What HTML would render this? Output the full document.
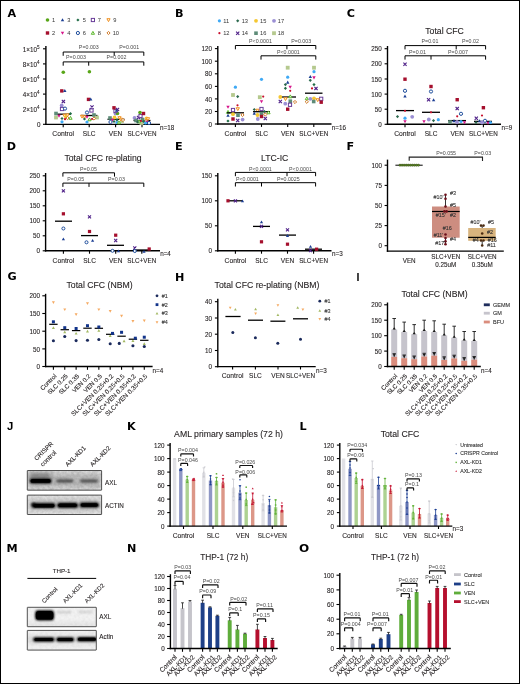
<!DOCTYPE html>
<html lang="en"><head><meta charset="utf-8"><title>Figure</title>
<style>
html,body{margin:0;padding:0;background:#fff;}
body{width:520px;height:684px;overflow:hidden;}
svg{display:block;font-family:"Liberation Sans",sans-serif;}
</style></head>
<body>
<svg width="520" height="684" viewBox="0 0 520 684">
<rect x="0" y="0" width="520" height="684" fill="#fff"/>
<defs><filter id="bl1" filterUnits="userSpaceOnUse" x="0" y="400" width="140" height="284"><feGaussianBlur stdDeviation="0.6"/></filter><filter id="bl2" filterUnits="userSpaceOnUse" x="0" y="400" width="140" height="284"><feGaussianBlur stdDeviation="1.0"/></filter><filter id="bl3" filterUnits="userSpaceOnUse" x="0" y="400" width="140" height="284"><feGaussianBlur stdDeviation="2.0"/></filter><filter id="bl4" filterUnits="userSpaceOnUse" x="0" y="400" width="140" height="284"><feGaussianBlur stdDeviation="3.5"/></filter><filter id="nz" filterUnits="userSpaceOnUse" x="0" y="400" width="140" height="284"><feTurbulence type="fractalNoise" baseFrequency="0.35" numOctaves="2" seed="7" result="t"/><feColorMatrix type="matrix" values="0 0 0 0 0  0 0 0 0 0  0 0 0 0 0  1.6 0 0 0 -0.45"/></filter></defs>
<g id="panelA">
<text transform="translate(7.50 17.20) scale(1.12 1)" font-size="10" font-weight="bold" fill="#000" font-family="DejaVu Sans,Liberation Sans,sans-serif">A</text>
<circle cx="47.50" cy="20.00" r="1.80" fill="#58a618" stroke="none" stroke-width="1" />
<text x="51.90" y="22.00" font-size="5.7" text-anchor="start" fill="#333" >1</text>
<path d="M62.50,18.30 L64.20,21.36 L60.80,21.36 Z" fill="#1c3f94" stroke="none" stroke-width="1" />
<text x="67.30" y="22.00" font-size="5.7" text-anchor="start" fill="#333" >3</text>
<path d="M77.90,18.40 L79.50,20.00 L77.90,21.60 L76.30,20.00 Z" fill="#1f6b45" stroke="none" stroke-width="1" />
<text x="82.70" y="22.00" font-size="5.7" text-anchor="start" fill="#333" >5</text>
<rect x="91.30" y="18.40" width="3.20" height="3.20" fill="#fff" stroke="#6a3d9a" stroke-width="1.0" />
<text x="97.70" y="22.00" font-size="5.7" text-anchor="start" fill="#333" >7</text>
<path d="M108.50,21.60 L110.10,18.72 L106.90,18.72 Z" fill="#fff" stroke="#f0901e" stroke-width="1.0" />
<text x="113.20" y="22.00" font-size="5.7" text-anchor="start" fill="#333" >9</text>
<rect x="45.80" y="31.30" width="3.40" height="3.40" fill="#a50f2d" stroke="none" stroke-width="1" />
<text x="51.90" y="35.00" font-size="5.7" text-anchor="start" fill="#333" >2</text>
<path d="M62.50,34.70 L64.20,31.64 L60.80,31.64 Z" fill="#d6168b" stroke="none" stroke-width="1" />
<text x="67.30" y="35.00" font-size="5.7" text-anchor="start" fill="#333" >4</text>
<circle cx="77.90" cy="33.00" r="1.60" fill="#fff" stroke="#1f4e9c" stroke-width="1.0" />
<text x="82.70" y="35.00" font-size="5.7" text-anchor="start" fill="#333" >6</text>
<path d="M92.90,31.40 L94.50,34.28 L91.30,34.28 Z" fill="#fff" stroke="#5db82e" stroke-width="1.0" />
<text x="97.70" y="35.00" font-size="5.7" text-anchor="start" fill="#333" >8</text>
<path d="M108.50,31.40 L110.10,33.00 L108.50,34.60 L106.90,33.00 Z" fill="#fff" stroke="#d07a28" stroke-width="1.0" />
<text x="112.70" y="35.00" font-size="5.7" text-anchor="start" fill="#333" >10</text>
<line x1="45.90" y1="46.00" x2="45.90" y2="125.10" stroke="#000" stroke-width="1.4" stroke-linecap="butt" />
<line x1="45.20" y1="124.40" x2="160.00" y2="124.40" stroke="#000" stroke-width="1.4" stroke-linecap="butt" />
<line x1="43.00" y1="48.80" x2="45.90" y2="48.80" stroke="#000" stroke-width="1.1" stroke-linecap="butt" />
<line x1="43.00" y1="63.90" x2="45.90" y2="63.90" stroke="#000" stroke-width="1.1" stroke-linecap="butt" />
<line x1="43.00" y1="79.00" x2="45.90" y2="79.00" stroke="#000" stroke-width="1.1" stroke-linecap="butt" />
<line x1="43.00" y1="94.10" x2="45.90" y2="94.10" stroke="#000" stroke-width="1.1" stroke-linecap="butt" />
<line x1="43.00" y1="109.20" x2="45.90" y2="109.20" stroke="#000" stroke-width="1.1" stroke-linecap="butt" />
<line x1="43.00" y1="124.30" x2="45.90" y2="124.30" stroke="#000" stroke-width="1.1" stroke-linecap="butt" />
<line x1="63.20" y1="124.40" x2="63.20" y2="127.30" stroke="#000" stroke-width="1.1" stroke-linecap="butt" />
<text x="63.20" y="136.00" font-size="6.74" text-anchor="middle" fill="#231f20" stroke="#231f20" stroke-width="0.1" >Control</text>
<line x1="89.20" y1="124.40" x2="89.20" y2="127.30" stroke="#000" stroke-width="1.1" stroke-linecap="butt" />
<text x="89.20" y="136.00" font-size="6.55" text-anchor="middle" fill="#231f20" stroke="#231f20" stroke-width="0.1" >SLC</text>
<line x1="115.60" y1="124.40" x2="115.60" y2="127.30" stroke="#000" stroke-width="1.1" stroke-linecap="butt" />
<text x="115.60" y="136.00" font-size="6.55" text-anchor="middle" fill="#231f20" stroke="#231f20" stroke-width="0.1" >VEN</text>
<line x1="142.00" y1="124.40" x2="142.00" y2="127.30" stroke="#000" stroke-width="1.1" stroke-linecap="butt" />
<text x="142.00" y="136.00" font-size="6.3" text-anchor="middle" fill="#231f20" stroke="#231f20" stroke-width="0.1" >SLC+VEN</text>
<text x="39.60" y="51.50" font-size="6.3" text-anchor="end" fill="#231f20" stroke="#231f20" stroke-width="0.1" >1×10<tspan font-size="4.6" dy="-2.8">5</tspan></text>
<text x="39.60" y="66.60" font-size="6.3" text-anchor="end" fill="#231f20" stroke="#231f20" stroke-width="0.1" >8×10<tspan font-size="4.6" dy="-2.8">4</tspan></text>
<text x="39.60" y="81.70" font-size="6.3" text-anchor="end" fill="#231f20" stroke="#231f20" stroke-width="0.1" >6×10<tspan font-size="4.6" dy="-2.8">4</tspan></text>
<text x="39.60" y="96.80" font-size="6.3" text-anchor="end" fill="#231f20" stroke="#231f20" stroke-width="0.1" >4×10<tspan font-size="4.6" dy="-2.8">4</tspan></text>
<text x="39.60" y="111.90" font-size="6.3" text-anchor="end" fill="#231f20" stroke="#231f20" stroke-width="0.1" >2×10<tspan font-size="4.6" dy="-2.8">4</tspan></text>
<text x="40.60" y="127.00" font-size="6.3" text-anchor="end" fill="#231f20" stroke="#231f20" stroke-width="0.1" >0</text>
<text x="160.00" y="129.70" font-size="6.3" text-anchor="start" fill="#231f20" stroke="#231f20" stroke-width="0.1" >n=18</text>
<path d="M63.20,55.80 L63.20,52.00 L143.80,52.00 L143.80,55.80" fill="none" stroke="#000" stroke-width="1.0" />
<line x1="114.20" y1="52.00" x2="114.20" y2="55.80" stroke="#000" stroke-width="1.0" stroke-linecap="butt" />
<path d="M63.20,65.70 L63.20,61.90 L143.80,61.90 L143.80,65.70" fill="none" stroke="#000" stroke-width="1.0" />
<line x1="88.70" y1="61.90" x2="88.70" y2="65.70" stroke="#000" stroke-width="1.0" stroke-linecap="butt" />
<text x="88.80" y="49.10" font-size="5.3" text-anchor="middle" fill="#4a4a4a" >P=0.003</text>
<text x="129.20" y="49.10" font-size="5.3" text-anchor="middle" fill="#4a4a4a" >P=0.001</text>
<text x="76.00" y="58.90" font-size="5.3" text-anchor="middle" fill="#4a4a4a" >P=0.003</text>
<text x="116.50" y="58.90" font-size="5.3" text-anchor="middle" fill="#4a4a4a" >P=0.002</text>
<line x1="56.00" y1="114.20" x2="70.50" y2="114.20" stroke="#000" stroke-width="1.3" stroke-linecap="butt" />
<rect x="54.10" y="115.60" width="3.80" height="3.80" fill="#b5c98e" stroke="none" stroke-width="1" />
<rect x="54.20" y="111.70" width="3.60" height="3.60" fill="#5e8c78" stroke="none" stroke-width="1" />
<path d="M59.00,117.70 L60.70,114.64 L57.30,114.64 Z" fill="#d6168b" stroke="none" stroke-width="1" />
<path d="M64.50,117.10 L66.10,114.22 L62.90,114.22 Z" fill="#fff" stroke="#f0901e" stroke-width="1.0" />
<path d="M67.50,116.80 L69.10,113.92 L65.90,113.92 Z" fill="#fff" stroke="#f0901e" stroke-width="1.0" />
<path d="M70.50,112.10 L72.10,113.70 L70.50,115.30 L68.90,113.70 Z" fill="#1f6b45" stroke="none" stroke-width="1" />
<circle cx="66.00" cy="117.00" r="1.90" fill="#f5c731" stroke="none" stroke-width="1" />
<path d="M67.50,116.40 L69.10,118.00 L67.50,119.60 L65.90,118.00 Z" fill="#fff" stroke="#d07a28" stroke-width="1.0" />
<path d="M70.50,116.40 L72.10,119.28 L68.90,119.28 Z" fill="#fff" stroke="#5db82e" stroke-width="1.0" />
<path d="M62.00,116.90 L63.60,118.50 L62.00,120.10 L60.40,118.50 Z" fill="#2d6a4f" stroke="none" stroke-width="1" />
<circle cx="65.00" cy="119.20" r="1.10" fill="#c8102e" stroke="none" stroke-width="1" />
<circle cx="62.00" cy="121.80" r="1.60" fill="#3fa9f5" stroke="none" stroke-width="1" />
<circle cx="61.70" cy="105.50" r="1.90" fill="#9b8fd4" stroke="none" stroke-width="1" />
<rect x="60.40" y="107.40" width="3.20" height="3.20" fill="#fff" stroke="#6a3d9a" stroke-width="1.0" />
<circle cx="65.00" cy="108.60" r="1.60" fill="#fff" stroke="#1f4e9c" stroke-width="1.0" />
<path d="M61.80,99.80 L65.00,103.00 M61.80,103.00 L65.00,99.80" fill="none" stroke="#4f2188" stroke-width="1.1" />
<rect x="60.10" y="89.20" width="3.40" height="3.40" fill="#a50f2d" stroke="none" stroke-width="1" />
<path d="M64.80,89.00 L66.50,92.06 L63.10,92.06 Z" fill="#1c3f94" stroke="none" stroke-width="1" />
<circle cx="63.30" cy="72.30" r="1.80" fill="#58a618" stroke="none" stroke-width="1" />
<line x1="81.00" y1="115.50" x2="97.50" y2="115.50" stroke="#000" stroke-width="1.3" stroke-linecap="butt" />
<path d="M82.00,118.10 L83.60,115.22 L80.40,115.22 Z" fill="#fff" stroke="#f0901e" stroke-width="1.0" />
<path d="M84.50,118.60 L86.10,115.72 L82.90,115.72 Z" fill="#fff" stroke="#f0901e" stroke-width="1.0" />
<path d="M87.00,118.70 L88.70,115.64 L85.30,115.64 Z" fill="#d6168b" stroke="none" stroke-width="1" />
<rect x="92.20" y="113.20" width="3.60" height="3.60" fill="#5e8c78" stroke="none" stroke-width="1" />
<rect x="95.10" y="115.60" width="3.80" height="3.80" fill="#b5c98e" stroke="none" stroke-width="1" />
<path d="M94.00,116.90 L95.60,118.50 L94.00,120.10 L92.40,118.50 Z" fill="#fff" stroke="#d07a28" stroke-width="1.0" />
<path d="M89.50,117.90 L91.10,120.78 L87.90,120.78 Z" fill="#fff" stroke="#5db82e" stroke-width="1.0" />
<path d="M84.50,117.40 L86.10,119.00 L84.50,120.60 L82.90,119.00 Z" fill="#2d6a4f" stroke="none" stroke-width="1" />
<circle cx="92.00" cy="119.00" r="1.10" fill="#c8102e" stroke="none" stroke-width="1" />
<circle cx="87.00" cy="122.00" r="1.60" fill="#3fa9f5" stroke="none" stroke-width="1" />
<circle cx="87.00" cy="112.50" r="1.60" fill="#fff" stroke="#1f4e9c" stroke-width="1.0" />
<circle cx="91.00" cy="109.50" r="1.90" fill="#9b8fd4" stroke="none" stroke-width="1" />
<rect x="89.90" y="108.90" width="3.20" height="3.20" fill="#fff" stroke="#6a3d9a" stroke-width="1.0" />
<path d="M90.40,105.40 L93.60,108.60 M90.40,108.60 L93.60,105.40" fill="none" stroke="#4f2188" stroke-width="1.1" />
<rect x="86.80" y="97.70" width="3.40" height="3.40" fill="#a50f2d" stroke="none" stroke-width="1" />
<path d="M90.70,97.50 L92.40,100.56 L89.00,100.56 Z" fill="#1c3f94" stroke="none" stroke-width="1" />
<circle cx="89.40" cy="71.70" r="1.80" fill="#58a618" stroke="none" stroke-width="1" />
<line x1="107.50" y1="119.30" x2="124.50" y2="119.30" stroke="#000" stroke-width="1.3" stroke-linecap="butt" />
<rect x="108.20" y="116.20" width="3.60" height="3.60" fill="#5e8c78" stroke="none" stroke-width="1" />
<rect x="120.10" y="119.10" width="3.80" height="3.80" fill="#b5c98e" stroke="none" stroke-width="1" />
<circle cx="114.50" cy="117.50" r="1.90" fill="#f5c731" stroke="none" stroke-width="1" />
<path d="M112.50,121.70 L114.20,118.64 L110.80,118.64 Z" fill="#d6168b" stroke="none" stroke-width="1" />
<path d="M119.50,119.60 L121.10,116.72 L117.90,116.72 Z" fill="#fff" stroke="#f0901e" stroke-width="1.0" />
<path d="M121.00,121.10 L122.60,118.22 L119.40,118.22 Z" fill="#fff" stroke="#f0901e" stroke-width="1.0" />
<path d="M123.00,118.40 L124.60,120.00 L123.00,121.60 L121.40,120.00 Z" fill="#fff" stroke="#d07a28" stroke-width="1.0" />
<circle cx="110.50" cy="122.00" r="1.60" fill="#fff" stroke="#1f4e9c" stroke-width="1.0" />
<path d="M114.00,119.90 L115.60,121.50 L114.00,123.10 L112.40,121.50 Z" fill="#2d6a4f" stroke="none" stroke-width="1" />
<circle cx="117.00" cy="122.50" r="1.60" fill="#3fa9f5" stroke="none" stroke-width="1" />
<path d="M119.00,120.90 L120.60,123.78 L117.40,123.78 Z" fill="#fff" stroke="#5db82e" stroke-width="1.0" />
<path d="M117.00,118.40 L118.60,120.00 L117.00,121.60 L115.40,120.00 Z" fill="#1f6b45" stroke="none" stroke-width="1" />
<circle cx="115.50" cy="113.50" r="1.90" fill="#9b8fd4" stroke="none" stroke-width="1" />
<circle cx="117.50" cy="113.50" r="1.80" fill="#58a618" stroke="none" stroke-width="1" />
<rect x="113.90" y="109.40" width="3.20" height="3.20" fill="#fff" stroke="#6a3d9a" stroke-width="1.0" />
<path d="M115.90,107.90 L119.10,111.10 M115.90,111.10 L119.10,107.90" fill="none" stroke="#4f2188" stroke-width="1.1" />
<rect x="112.30" y="106.10" width="3.40" height="3.40" fill="#a50f2d" stroke="none" stroke-width="1" />
<path d="M116.50,108.80 L118.20,111.86 L114.80,111.86 Z" fill="#1c3f94" stroke="none" stroke-width="1" />
<line x1="133.50" y1="120.50" x2="150.50" y2="120.50" stroke="#000" stroke-width="1.3" stroke-linecap="butt" />
<circle cx="134.50" cy="118.00" r="1.90" fill="#9b8fd4" stroke="none" stroke-width="1" />
<rect x="134.20" y="118.70" width="3.60" height="3.60" fill="#5e8c78" stroke="none" stroke-width="1" />
<rect x="139.60" y="121.10" width="3.80" height="3.80" fill="#b5c98e" stroke="none" stroke-width="1" />
<circle cx="146.50" cy="118.50" r="1.90" fill="#f5c731" stroke="none" stroke-width="1" />
<path d="M148.00,120.60 L149.60,117.72 L146.40,117.72 Z" fill="#fff" stroke="#f0901e" stroke-width="1.0" />
<path d="M146.00,119.40 L147.60,121.00 L146.00,122.60 L144.40,121.00 Z" fill="#fff" stroke="#d07a28" stroke-width="1.0" />
<path d="M147.00,123.70 L148.70,120.64 L145.30,120.64 Z" fill="#d6168b" stroke="none" stroke-width="1" />
<circle cx="145.50" cy="123.00" r="1.60" fill="#3fa9f5" stroke="none" stroke-width="1" />
<circle cx="149.00" cy="123.00" r="1.60" fill="#fff" stroke="#1f4e9c" stroke-width="1.0" />
<path d="M139.00,119.90 L140.60,122.78 L137.40,122.78 Z" fill="#fff" stroke="#5db82e" stroke-width="1.0" />
<path d="M137.50,120.40 L139.10,122.00 L137.50,123.60 L135.90,122.00 Z" fill="#2d6a4f" stroke="none" stroke-width="1" />
<rect x="140.70" y="117.70" width="3.60" height="3.60" fill="#5e8c78" stroke="none" stroke-width="1" />
<path d="M136.90,115.90 L140.10,119.10 M136.90,119.10 L140.10,115.90" fill="none" stroke="#4f2188" stroke-width="1.1" />
<rect x="138.90" y="114.40" width="3.20" height="3.20" fill="#fff" stroke="#6a3d9a" stroke-width="1.0" />
<circle cx="140.00" cy="112.50" r="1.80" fill="#58a618" stroke="none" stroke-width="1" />
<rect x="141.80" y="111.80" width="3.40" height="3.40" fill="#a50f2d" stroke="none" stroke-width="1" />
<circle cx="141.00" cy="121.00" r="1.10" fill="#c8102e" stroke="none" stroke-width="1" />
<path d="M143.50,119.90 L145.10,121.50 L143.50,123.10 L141.90,121.50 Z" fill="#1f6b45" stroke="none" stroke-width="1" />
</g>
<g id="panelB">
<text transform="translate(175.00 17.20) scale(1.12 1)" font-size="10" font-weight="bold" fill="#000" font-family="DejaVu Sans,Liberation Sans,sans-serif">B</text>
<circle cx="219.40" cy="20.80" r="1.60" fill="#3fa9f5" stroke="none" stroke-width="1" />
<text x="223.20" y="22.80" font-size="5.7" text-anchor="start" fill="#333" >11</text>
<path d="M237.70,19.20 L239.30,20.80 L237.70,22.40 L236.10,20.80 Z" fill="#2d6a4f" stroke="none" stroke-width="1" />
<text x="241.70" y="22.80" font-size="5.7" text-anchor="start" fill="#333" >13</text>
<circle cx="256.00" cy="20.80" r="1.90" fill="#f5c731" stroke="none" stroke-width="1" />
<text x="260.00" y="22.80" font-size="5.7" text-anchor="start" fill="#333" >15</text>
<circle cx="274.00" cy="20.80" r="1.90" fill="#9b8fd4" stroke="none" stroke-width="1" />
<text x="277.80" y="22.80" font-size="5.7" text-anchor="start" fill="#333" >17</text>
<circle cx="219.40" cy="33.20" r="1.10" fill="#c8102e" stroke="none" stroke-width="1" />
<text x="223.20" y="35.20" font-size="5.7" text-anchor="start" fill="#333" >12</text>
<path d="M236.10,31.60 L239.30,34.80 M236.10,34.80 L239.30,31.60" fill="none" stroke="#4f2188" stroke-width="1.1" />
<text x="241.70" y="35.20" font-size="5.7" text-anchor="start" fill="#333" >14</text>
<rect x="254.20" y="31.40" width="3.60" height="3.60" fill="#5e8c78" stroke="none" stroke-width="1" />
<text x="260.00" y="35.20" font-size="5.7" text-anchor="start" fill="#333" >16</text>
<rect x="272.10" y="31.30" width="3.80" height="3.80" fill="#b5c98e" stroke="none" stroke-width="1" />
<text x="277.80" y="35.20" font-size="5.7" text-anchor="start" fill="#333" >18</text>
<line x1="217.80" y1="46.00" x2="217.80" y2="124.70" stroke="#000" stroke-width="1.4" stroke-linecap="butt" />
<line x1="217.10" y1="124.00" x2="331.50" y2="124.00" stroke="#000" stroke-width="1.4" stroke-linecap="butt" />
<line x1="214.90" y1="48.60" x2="217.80" y2="48.60" stroke="#000" stroke-width="1.1" stroke-linecap="butt" />
<text x="212.10" y="51.27" font-size="6.3" text-anchor="end" fill="#231f20" stroke="#231f20" stroke-width="0.1" >120</text>
<line x1="214.90" y1="61.20" x2="217.80" y2="61.20" stroke="#000" stroke-width="1.1" stroke-linecap="butt" />
<text x="212.10" y="63.87" font-size="6.3" text-anchor="end" fill="#231f20" stroke="#231f20" stroke-width="0.1" >100</text>
<line x1="214.90" y1="73.80" x2="217.80" y2="73.80" stroke="#000" stroke-width="1.1" stroke-linecap="butt" />
<text x="212.10" y="76.47" font-size="6.3" text-anchor="end" fill="#231f20" stroke="#231f20" stroke-width="0.1" >80</text>
<line x1="214.90" y1="86.40" x2="217.80" y2="86.40" stroke="#000" stroke-width="1.1" stroke-linecap="butt" />
<text x="212.10" y="89.07" font-size="6.3" text-anchor="end" fill="#231f20" stroke="#231f20" stroke-width="0.1" >60</text>
<line x1="214.90" y1="98.90" x2="217.80" y2="98.90" stroke="#000" stroke-width="1.1" stroke-linecap="butt" />
<text x="212.10" y="101.57" font-size="6.3" text-anchor="end" fill="#231f20" stroke="#231f20" stroke-width="0.1" >40</text>
<line x1="214.90" y1="111.50" x2="217.80" y2="111.50" stroke="#000" stroke-width="1.1" stroke-linecap="butt" />
<text x="212.10" y="114.17" font-size="6.3" text-anchor="end" fill="#231f20" stroke="#231f20" stroke-width="0.1" >20</text>
<line x1="214.90" y1="124.00" x2="217.80" y2="124.00" stroke="#000" stroke-width="1.1" stroke-linecap="butt" />
<text x="212.10" y="126.67" font-size="6.3" text-anchor="end" fill="#231f20" stroke="#231f20" stroke-width="0.1" >0</text>
<line x1="235.40" y1="124.00" x2="235.40" y2="126.90" stroke="#000" stroke-width="1.1" stroke-linecap="butt" />
<text x="235.40" y="136.00" font-size="6.74" text-anchor="middle" fill="#231f20" stroke="#231f20" stroke-width="0.1" >Control</text>
<line x1="261.50" y1="124.00" x2="261.50" y2="126.90" stroke="#000" stroke-width="1.1" stroke-linecap="butt" />
<text x="261.50" y="136.00" font-size="6.55" text-anchor="middle" fill="#231f20" stroke="#231f20" stroke-width="0.1" >SLC</text>
<line x1="287.70" y1="124.00" x2="287.70" y2="126.90" stroke="#000" stroke-width="1.1" stroke-linecap="butt" />
<text x="287.70" y="136.00" font-size="6.55" text-anchor="middle" fill="#231f20" stroke="#231f20" stroke-width="0.1" >VEN</text>
<line x1="313.80" y1="124.00" x2="313.80" y2="126.90" stroke="#000" stroke-width="1.1" stroke-linecap="butt" />
<text x="313.80" y="136.00" font-size="6.3" text-anchor="middle" fill="#231f20" stroke="#231f20" stroke-width="0.1" >SLC+VEN</text>
<text x="331.80" y="129.70" font-size="6.3" text-anchor="start" fill="#231f20" stroke="#231f20" stroke-width="0.1" >n=16</text>
<path d="M235.40,49.30 L235.40,45.50 L315.80,45.50 L315.80,49.30" fill="none" stroke="#000" stroke-width="1.0" />
<line x1="286.90" y1="45.50" x2="286.90" y2="49.30" stroke="#000" stroke-width="1.0" stroke-linecap="butt" />
<path d="M261.00,59.60 L261.00,55.80 L315.80,55.80 L315.80,59.60" fill="none" stroke="#000" stroke-width="1.0" />
<text x="260.50" y="43.30" font-size="5.3" text-anchor="middle" fill="#4a4a4a" >P&lt;0.0001</text>
<text x="301.20" y="43.30" font-size="5.3" text-anchor="middle" fill="#4a4a4a" >P=0.003</text>
<text x="288.40" y="53.50" font-size="5.3" text-anchor="middle" fill="#4a4a4a" >P&lt;0.0001</text>
<circle cx="235.40" cy="87.20" r="1.60" fill="#3fa9f5" stroke="none" stroke-width="1" />
<rect x="231.10" y="93.10" width="3.80" height="3.80" fill="#b5c98e" stroke="none" stroke-width="1" />
<path d="M237.70,95.00 L239.30,96.60 L237.70,98.20 L236.10,96.60 Z" fill="#2d6a4f" stroke="none" stroke-width="1" />
<path d="M228.00,108.70 L229.70,105.64 L226.30,105.64 Z" fill="#d6168b" stroke="none" stroke-width="1" />
<circle cx="237.50" cy="105.30" r="1.10" fill="#c8102e" stroke="none" stroke-width="1" />
<rect x="231.40" y="108.40" width="3.20" height="3.20" fill="#fff" stroke="#6a3d9a" stroke-width="1.0" />
<path d="M237.80,110.60 L239.40,107.72 L236.20,107.72 Z" fill="#fff" stroke="#f0901e" stroke-width="1.0" />
<path d="M228.00,110.40 L229.60,113.28 L226.40,113.28 Z" fill="#fff" stroke="#5db82e" stroke-width="1.0" />
<line x1="227.00" y1="112.80" x2="244.00" y2="112.80" stroke="#000" stroke-width="1.3" stroke-linecap="butt" />
<circle cx="233.00" cy="114.20" r="1.90" fill="#f5c731" stroke="none" stroke-width="1" />
<rect x="236.20" y="113.40" width="3.60" height="3.60" fill="#5e8c78" stroke="none" stroke-width="1" />
<path d="M242.50,113.40 L244.10,115.00 L242.50,116.60 L240.90,115.00 Z" fill="#fff" stroke="#d07a28" stroke-width="1.0" />
<path d="M228.00,113.80 L229.70,116.86 L226.30,116.86 Z" fill="#1c3f94" stroke="none" stroke-width="1" />
<rect x="231.30" y="117.30" width="3.40" height="3.40" fill="#a50f2d" stroke="none" stroke-width="1" />
<path d="M236.10,118.90 L239.30,122.10 M236.10,122.10 L239.30,118.90" fill="none" stroke="#4f2188" stroke-width="1.1" />
<circle cx="242.60" cy="119.60" r="1.90" fill="#9b8fd4" stroke="none" stroke-width="1" />
<path d="M228.00,119.40 L229.60,121.00 L228.00,122.60 L226.40,121.00 Z" fill="#1f6b45" stroke="none" stroke-width="1" />
<circle cx="261.50" cy="79.30" r="1.60" fill="#3fa9f5" stroke="none" stroke-width="1" />
<rect x="257.90" y="95.30" width="3.80" height="3.80" fill="#b5c98e" stroke="none" stroke-width="1" />
<circle cx="263.20" cy="96.60" r="1.10" fill="#c8102e" stroke="none" stroke-width="1" />
<path d="M261.50,103.20 L263.20,100.14 L259.80,100.14 Z" fill="#d6168b" stroke="none" stroke-width="1" />
<path d="M254.30,107.90 L255.90,109.50 L254.30,111.10 L252.70,109.50 Z" fill="#2d6a4f" stroke="none" stroke-width="1" />
<path d="M257.50,112.10 L259.10,109.22 L255.90,109.22 Z" fill="#fff" stroke="#f0901e" stroke-width="1.0" />
<line x1="253.00" y1="111.70" x2="270.00" y2="111.70" stroke="#000" stroke-width="1.3" stroke-linecap="butt" />
<path d="M254.30,111.80 L256.00,114.86 L252.60,114.86 Z" fill="#1c3f94" stroke="none" stroke-width="1" />
<circle cx="257.50" cy="115.00" r="1.90" fill="#f5c731" stroke="none" stroke-width="1" />
<rect x="259.70" y="111.70" width="3.60" height="3.60" fill="#5e8c78" stroke="none" stroke-width="1" />
<path d="M264.50,109.90 L266.10,111.50 L264.50,113.10 L262.90,111.50 Z" fill="#1f6b45" stroke="none" stroke-width="1" />
<path d="M268.50,110.90 L270.10,113.78 L266.90,113.78 Z" fill="#fff" stroke="#5db82e" stroke-width="1.0" />
<path d="M265.30,112.90 L266.90,114.50 L265.30,116.10 L263.70,114.50 Z" fill="#fff" stroke="#d07a28" stroke-width="1.0" />
<rect x="259.90" y="107.40" width="3.20" height="3.20" fill="#fff" stroke="#6a3d9a" stroke-width="1.0" />
<rect x="259.80" y="114.80" width="3.40" height="3.40" fill="#a50f2d" stroke="none" stroke-width="1" />
<circle cx="257.80" cy="119.00" r="1.90" fill="#9b8fd4" stroke="none" stroke-width="1" />
<path d="M263.70,116.90 L266.90,120.10 M263.70,120.10 L266.90,116.90" fill="none" stroke="#4f2188" stroke-width="1.1" />
<rect x="285.80" y="65.80" width="3.80" height="3.80" fill="#b5c98e" stroke="none" stroke-width="1" />
<circle cx="287.70" cy="77.20" r="1.60" fill="#3fa9f5" stroke="none" stroke-width="1" />
<path d="M287.70,80.60 L289.40,83.66 L286.00,83.66 Z" fill="#1c3f94" stroke="none" stroke-width="1" />
<path d="M285.40,83.00 L287.00,84.60 L285.40,86.20 L283.80,84.60 Z" fill="#2d6a4f" stroke="none" stroke-width="1" />
<path d="M285.40,86.70 L287.00,88.30 L285.40,89.90 L283.80,88.30 Z" fill="#1f6b45" stroke="none" stroke-width="1" />
<path d="M290.20,88.70 L291.90,85.64 L288.50,85.64 Z" fill="#d6168b" stroke="none" stroke-width="1" />
<circle cx="290.20" cy="90.80" r="1.10" fill="#c8102e" stroke="none" stroke-width="1" />
<line x1="280.00" y1="97.00" x2="296.00" y2="97.00" stroke="#000" stroke-width="1.3" stroke-linecap="butt" />
<circle cx="280.30" cy="97.00" r="1.90" fill="#f5c731" stroke="none" stroke-width="1" />
<path d="M290.30,94.90 L291.90,97.78 L288.70,97.78 Z" fill="#fff" stroke="#5db82e" stroke-width="1.0" />
<path d="M285.50,100.60 L287.10,97.72 L283.90,97.72 Z" fill="#fff" stroke="#f0901e" stroke-width="1.0" />
<path d="M278.70,99.90 L281.90,103.10 M278.70,103.10 L281.90,99.90" fill="none" stroke="#4f2188" stroke-width="1.1" />
<rect x="288.50" y="99.40" width="3.60" height="3.60" fill="#5e8c78" stroke="none" stroke-width="1" />
<path d="M295.00,100.40 L296.60,102.00 L295.00,103.60 L293.40,102.00 Z" fill="#fff" stroke="#d07a28" stroke-width="1.0" />
<circle cx="285.30" cy="103.70" r="1.90" fill="#9b8fd4" stroke="none" stroke-width="1" />
<rect x="288.40" y="103.20" width="3.20" height="3.20" fill="#fff" stroke="#6a3d9a" stroke-width="1.0" />
<rect x="286.00" y="107.50" width="3.40" height="3.40" fill="#a50f2d" stroke="none" stroke-width="1" />
<rect x="312.10" y="65.80" width="3.80" height="3.80" fill="#b5c98e" stroke="none" stroke-width="1" />
<circle cx="314.00" cy="71.70" r="1.60" fill="#3fa9f5" stroke="none" stroke-width="1" />
<path d="M310.30,74.90 L312.00,77.96 L308.60,77.96 Z" fill="#1c3f94" stroke="none" stroke-width="1" />
<path d="M314.00,79.40 L315.70,76.34 L312.30,76.34 Z" fill="#d6168b" stroke="none" stroke-width="1" />
<path d="M310.30,78.70 L311.90,80.30 L310.30,81.90 L308.70,80.30 Z" fill="#2d6a4f" stroke="none" stroke-width="1" />
<path d="M314.00,83.00 L315.60,84.60 L314.00,86.20 L312.40,84.60 Z" fill="#1f6b45" stroke="none" stroke-width="1" />
<circle cx="312.00" cy="88.40" r="1.10" fill="#c8102e" stroke="none" stroke-width="1" />
<path d="M314.40,86.80 L317.60,90.00 M314.40,90.00 L317.60,86.80" fill="none" stroke="#4f2188" stroke-width="1.1" />
<line x1="305.00" y1="93.20" x2="322.50" y2="93.20" stroke="#000" stroke-width="1.3" stroke-linecap="butt" />
<path d="M306.80,96.90 L308.40,99.78 L305.20,99.78 Z" fill="#fff" stroke="#5db82e" stroke-width="1.0" />
<circle cx="310.30" cy="98.80" r="1.90" fill="#9b8fd4" stroke="none" stroke-width="1" />
<circle cx="314.00" cy="98.30" r="1.90" fill="#f5c731" stroke="none" stroke-width="1" />
<rect x="319.60" y="97.20" width="3.20" height="3.20" fill="#fff" stroke="#6a3d9a" stroke-width="1.0" />
<path d="M317.70,101.60 L319.30,98.72 L316.10,98.72 Z" fill="#fff" stroke="#f0901e" stroke-width="1.0" />
<path d="M306.80,100.20 L308.40,101.80 L306.80,103.40 L305.20,101.80 Z" fill="#fff" stroke="#d07a28" stroke-width="1.0" />
<rect x="311.90" y="99.70" width="3.60" height="3.60" fill="#5e8c78" stroke="none" stroke-width="1" />
<rect x="319.50" y="100.50" width="3.40" height="3.40" fill="#a50f2d" stroke="none" stroke-width="1" />
</g>
<g id="panelC">
<text transform="translate(346.80 17.20) scale(1.12 1)" font-size="10" font-weight="bold" fill="#000" font-family="DejaVu Sans,Liberation Sans,sans-serif">C</text>
<text x="444.60" y="34.20" font-size="8.7" text-anchor="middle" fill="#231f20" stroke="#231f20" stroke-width="0.1" >Total CFC</text>
<line x1="387.50" y1="46.00" x2="387.50" y2="125.00" stroke="#000" stroke-width="1.4" stroke-linecap="butt" />
<line x1="386.80" y1="124.30" x2="501.00" y2="124.30" stroke="#000" stroke-width="1.4" stroke-linecap="butt" />
<line x1="384.60" y1="48.70" x2="387.50" y2="48.70" stroke="#000" stroke-width="1.1" stroke-linecap="butt" />
<text x="381.80" y="51.37" font-size="6.3" text-anchor="end" fill="#231f20" stroke="#231f20" stroke-width="0.1" >250</text>
<line x1="384.60" y1="63.80" x2="387.50" y2="63.80" stroke="#000" stroke-width="1.1" stroke-linecap="butt" />
<text x="381.80" y="66.47" font-size="6.3" text-anchor="end" fill="#231f20" stroke="#231f20" stroke-width="0.1" >200</text>
<line x1="384.60" y1="79.00" x2="387.50" y2="79.00" stroke="#000" stroke-width="1.1" stroke-linecap="butt" />
<text x="381.80" y="81.67" font-size="6.3" text-anchor="end" fill="#231f20" stroke="#231f20" stroke-width="0.1" >150</text>
<line x1="384.60" y1="94.10" x2="387.50" y2="94.10" stroke="#000" stroke-width="1.1" stroke-linecap="butt" />
<text x="381.80" y="96.77" font-size="6.3" text-anchor="end" fill="#231f20" stroke="#231f20" stroke-width="0.1" >100</text>
<line x1="384.60" y1="109.20" x2="387.50" y2="109.20" stroke="#000" stroke-width="1.1" stroke-linecap="butt" />
<text x="381.80" y="111.87" font-size="6.3" text-anchor="end" fill="#231f20" stroke="#231f20" stroke-width="0.1" >50</text>
<line x1="384.60" y1="124.30" x2="387.50" y2="124.30" stroke="#000" stroke-width="1.1" stroke-linecap="butt" />
<text x="381.80" y="126.97" font-size="6.3" text-anchor="end" fill="#231f20" stroke="#231f20" stroke-width="0.1" >0</text>
<line x1="405.00" y1="124.30" x2="405.00" y2="127.20" stroke="#000" stroke-width="1.1" stroke-linecap="butt" />
<text x="405.00" y="136.00" font-size="6.74" text-anchor="middle" fill="#231f20" stroke="#231f20" stroke-width="0.1" >Control</text>
<line x1="431.00" y1="124.30" x2="431.00" y2="127.20" stroke="#000" stroke-width="1.1" stroke-linecap="butt" />
<text x="431.00" y="136.00" font-size="6.55" text-anchor="middle" fill="#231f20" stroke="#231f20" stroke-width="0.1" >SLC</text>
<line x1="457.20" y1="124.30" x2="457.20" y2="127.20" stroke="#000" stroke-width="1.1" stroke-linecap="butt" />
<text x="457.20" y="136.00" font-size="6.55" text-anchor="middle" fill="#231f20" stroke="#231f20" stroke-width="0.1" >VEN</text>
<line x1="483.40" y1="124.30" x2="483.40" y2="127.20" stroke="#000" stroke-width="1.1" stroke-linecap="butt" />
<text x="483.40" y="136.00" font-size="6.3" text-anchor="middle" fill="#231f20" stroke="#231f20" stroke-width="0.1" >SLC+VEN</text>
<text x="501.50" y="129.70" font-size="6.3" text-anchor="start" fill="#231f20" stroke="#231f20" stroke-width="0.1" >n=9</text>
<path d="M405.00,49.40 L405.00,45.60 L485.60,45.60 L485.60,49.40" fill="none" stroke="#000" stroke-width="1.0" />
<line x1="456.20" y1="45.60" x2="456.20" y2="49.40" stroke="#000" stroke-width="1.0" stroke-linecap="butt" />
<path d="M405.00,59.60 L405.00,55.80 L485.60,55.80 L485.60,59.60" fill="none" stroke="#000" stroke-width="1.0" />
<line x1="431.00" y1="55.80" x2="431.00" y2="59.60" stroke="#000" stroke-width="1.0" stroke-linecap="butt" />
<text x="430.00" y="43.30" font-size="5.3" text-anchor="middle" fill="#4a4a4a" >P=0.01</text>
<text x="470.40" y="43.30" font-size="5.3" text-anchor="middle" fill="#4a4a4a" >P=0.02</text>
<text x="417.50" y="53.80" font-size="5.3" text-anchor="middle" fill="#4a4a4a" >P=0.01</text>
<text x="458.00" y="53.80" font-size="5.3" text-anchor="middle" fill="#4a4a4a" >P=0.007</text>
<line x1="396.00" y1="110.60" x2="414.00" y2="110.60" stroke="#000" stroke-width="1.3" stroke-linecap="butt" />
<line x1="422.00" y1="112.30" x2="440.00" y2="112.30" stroke="#000" stroke-width="1.3" stroke-linecap="butt" />
<line x1="448.00" y1="120.60" x2="466.00" y2="120.60" stroke="#000" stroke-width="1.3" stroke-linecap="butt" />
<line x1="474.00" y1="121.40" x2="492.00" y2="121.40" stroke="#000" stroke-width="1.3" stroke-linecap="butt" />
<path d="M403.40,62.60 L406.60,65.80 M403.40,65.80 L406.60,62.60" fill="none" stroke="#4f2188" stroke-width="1.1" />
<rect x="403.30" y="77.50" width="3.40" height="3.40" fill="#a50f2d" stroke="none" stroke-width="1" />
<circle cx="405.00" cy="90.80" r="1.60" fill="#fff" stroke="#1f4e9c" stroke-width="1.0" />
<path d="M405.00,94.50 L406.70,97.56 L403.30,97.56 Z" fill="#1c3f94" stroke="none" stroke-width="1" />
<circle cx="405.00" cy="110.80" r="1.10" fill="#c8102e" stroke="none" stroke-width="1" />
<path d="M397.50,115.00 L399.10,116.60 L397.50,118.20 L395.90,116.60 Z" fill="#2d6a4f" stroke="none" stroke-width="1" />
<circle cx="405.00" cy="118.20" r="1.60" fill="#3fa9f5" stroke="none" stroke-width="1" />
<circle cx="412.20" cy="116.80" r="1.90" fill="#9b8fd4" stroke="none" stroke-width="1" />
<path d="M405.00,123.30 L406.70,120.24 L403.30,120.24 Z" fill="#d6168b" stroke="none" stroke-width="1" />
<rect x="429.30" y="84.80" width="3.40" height="3.40" fill="#a50f2d" stroke="none" stroke-width="1" />
<circle cx="431.00" cy="91.50" r="1.60" fill="#fff" stroke="#1f4e9c" stroke-width="1.0" />
<path d="M427.00,98.20 L430.20,101.40 M427.00,101.40 L430.20,98.20" fill="none" stroke="#4f2188" stroke-width="1.1" />
<path d="M433.60,98.30 L435.30,101.36 L431.90,101.36 Z" fill="#1c3f94" stroke="none" stroke-width="1" />
<circle cx="431.00" cy="112.30" r="1.10" fill="#c8102e" stroke="none" stroke-width="1" />
<path d="M424.00,123.20 L425.70,120.14 L422.30,120.14 Z" fill="#d6168b" stroke="none" stroke-width="1" />
<circle cx="428.80" cy="119.50" r="1.90" fill="#9b8fd4" stroke="none" stroke-width="1" />
<path d="M433.50,119.00 L435.10,120.60 L433.50,122.20 L431.90,120.60 Z" fill="#2d6a4f" stroke="none" stroke-width="1" />
<circle cx="438.30" cy="119.70" r="1.60" fill="#3fa9f5" stroke="none" stroke-width="1" />
<rect x="455.50" y="98.00" width="3.40" height="3.40" fill="#a50f2d" stroke="none" stroke-width="1" />
<path d="M455.60,107.00 L458.80,110.20 M455.60,110.20 L458.80,107.00" fill="none" stroke="#4f2188" stroke-width="1.1" />
<circle cx="461.00" cy="113.80" r="1.60" fill="#fff" stroke="#1f4e9c" stroke-width="1.0" />
<circle cx="457.20" cy="116.30" r="1.10" fill="#c8102e" stroke="none" stroke-width="1" />
<rect x="448.20" y="120.20" width="3.60" height="3.60" fill="#5e8c78" stroke="none" stroke-width="1" />
<path d="M454.00,119.10 L455.70,122.16 L452.30,122.16 Z" fill="#1c3f94" stroke="none" stroke-width="1" />
<circle cx="457.00" cy="122.00" r="1.90" fill="#9b8fd4" stroke="none" stroke-width="1" />
<circle cx="461.00" cy="121.50" r="1.60" fill="#3fa9f5" stroke="none" stroke-width="1" />
<path d="M464.50,124.20 L466.20,121.14 L462.80,121.14 Z" fill="#d6168b" stroke="none" stroke-width="1" />
<rect x="481.70" y="106.00" width="3.40" height="3.40" fill="#a50f2d" stroke="none" stroke-width="1" />
<circle cx="482.00" cy="115.50" r="1.10" fill="#c8102e" stroke="none" stroke-width="1" />
<path d="M474.70,116.70 L477.90,119.90 M474.70,119.90 L477.90,116.70" fill="none" stroke="#4f2188" stroke-width="1.1" />
<path d="M476.00,120.90 L477.60,122.50 L476.00,124.10 L474.40,122.50 Z" fill="#2d6a4f" stroke="none" stroke-width="1" />
<path d="M479.50,119.30 L481.20,122.36 L477.80,122.36 Z" fill="#1c3f94" stroke="none" stroke-width="1" />
<circle cx="485.00" cy="120.80" r="1.60" fill="#fff" stroke="#1f4e9c" stroke-width="1.0" />
<circle cx="482.00" cy="122.50" r="1.90" fill="#9b8fd4" stroke="none" stroke-width="1" />
<path d="M488.00,124.70 L489.70,121.64 L486.30,121.64 Z" fill="#d6168b" stroke="none" stroke-width="1" />
<circle cx="490.50" cy="122.50" r="1.60" fill="#3fa9f5" stroke="none" stroke-width="1" />
</g>
<g id="panelD">
<text transform="translate(6.80 149.70) scale(1.12 1)" font-size="10" font-weight="bold" fill="#000" font-family="DejaVu Sans,Liberation Sans,sans-serif">D</text>
<text x="103.00" y="161.00" font-size="8.7" text-anchor="middle" fill="#231f20" stroke="#231f20" stroke-width="0.1" >Total CFC re-plating</text>
<line x1="45.60" y1="173.00" x2="45.60" y2="251.50" stroke="#000" stroke-width="1.4" stroke-linecap="butt" />
<line x1="44.90" y1="250.80" x2="160.00" y2="250.80" stroke="#000" stroke-width="1.4" stroke-linecap="butt" />
<line x1="42.70" y1="175.80" x2="45.60" y2="175.80" stroke="#000" stroke-width="1.1" stroke-linecap="butt" />
<text x="39.90" y="178.47" font-size="6.3" text-anchor="end" fill="#231f20" stroke="#231f20" stroke-width="0.1" >250</text>
<line x1="42.70" y1="190.80" x2="45.60" y2="190.80" stroke="#000" stroke-width="1.1" stroke-linecap="butt" />
<text x="39.90" y="193.47" font-size="6.3" text-anchor="end" fill="#231f20" stroke="#231f20" stroke-width="0.1" >200</text>
<line x1="42.70" y1="205.80" x2="45.60" y2="205.80" stroke="#000" stroke-width="1.1" stroke-linecap="butt" />
<text x="39.90" y="208.47" font-size="6.3" text-anchor="end" fill="#231f20" stroke="#231f20" stroke-width="0.1" >150</text>
<line x1="42.70" y1="220.80" x2="45.60" y2="220.80" stroke="#000" stroke-width="1.1" stroke-linecap="butt" />
<text x="39.90" y="223.47" font-size="6.3" text-anchor="end" fill="#231f20" stroke="#231f20" stroke-width="0.1" >100</text>
<line x1="42.70" y1="235.80" x2="45.60" y2="235.80" stroke="#000" stroke-width="1.1" stroke-linecap="butt" />
<text x="39.90" y="238.47" font-size="6.3" text-anchor="end" fill="#231f20" stroke="#231f20" stroke-width="0.1" >50</text>
<line x1="42.70" y1="250.80" x2="45.60" y2="250.80" stroke="#000" stroke-width="1.1" stroke-linecap="butt" />
<text x="39.90" y="253.47" font-size="6.3" text-anchor="end" fill="#231f20" stroke="#231f20" stroke-width="0.1" >0</text>
<line x1="63.40" y1="250.80" x2="63.40" y2="253.70" stroke="#000" stroke-width="1.1" stroke-linecap="butt" />
<text x="63.40" y="262.70" font-size="6.74" text-anchor="middle" fill="#231f20" stroke="#231f20" stroke-width="0.1" >Control</text>
<line x1="89.50" y1="250.80" x2="89.50" y2="253.70" stroke="#000" stroke-width="1.1" stroke-linecap="butt" />
<text x="89.50" y="262.70" font-size="6.55" text-anchor="middle" fill="#231f20" stroke="#231f20" stroke-width="0.1" >SLC</text>
<line x1="115.70" y1="250.80" x2="115.70" y2="253.70" stroke="#000" stroke-width="1.1" stroke-linecap="butt" />
<text x="115.70" y="262.70" font-size="6.55" text-anchor="middle" fill="#231f20" stroke="#231f20" stroke-width="0.1" >VEN</text>
<line x1="141.80" y1="250.80" x2="141.80" y2="253.70" stroke="#000" stroke-width="1.1" stroke-linecap="butt" />
<text x="141.80" y="262.70" font-size="6.3" text-anchor="middle" fill="#231f20" stroke="#231f20" stroke-width="0.1" >SLC+VEN</text>
<text x="160.20" y="256.00" font-size="6.3" text-anchor="start" fill="#231f20" stroke="#231f20" stroke-width="0.1" >n=4</text>
<path d="M62.90,176.60 L62.90,172.80 L114.50,172.80 L114.50,176.60" fill="none" stroke="#000" stroke-width="1.0" />
<path d="M62.90,186.90 L62.90,183.10 L143.80,183.10 L143.80,186.90" fill="none" stroke="#000" stroke-width="1.0" />
<line x1="89.00" y1="183.10" x2="89.00" y2="186.90" stroke="#000" stroke-width="1.0" stroke-linecap="butt" />
<text x="88.50" y="170.60" font-size="5.3" text-anchor="middle" fill="#4a4a4a" >P=0.05</text>
<text x="75.80" y="180.60" font-size="5.3" text-anchor="middle" fill="#4a4a4a" >P=0.05</text>
<text x="116.50" y="180.60" font-size="5.3" text-anchor="middle" fill="#4a4a4a" >P=0.03</text>
<line x1="55.00" y1="221.20" x2="72.00" y2="221.20" stroke="#000" stroke-width="1.3" stroke-linecap="butt" />
<line x1="81.00" y1="235.60" x2="98.00" y2="235.60" stroke="#000" stroke-width="1.3" stroke-linecap="butt" />
<line x1="107.00" y1="245.30" x2="124.00" y2="245.30" stroke="#000" stroke-width="1.3" stroke-linecap="butt" />
<line x1="133.00" y1="250.00" x2="150.00" y2="250.00" stroke="#000" stroke-width="1.3" stroke-linecap="butt" />
<path d="M61.88,189.28 L64.92,192.32 M61.88,192.32 L64.92,189.28" fill="none" stroke="#4f2188" stroke-width="1.1" />
<rect x="61.78" y="212.19" width="3.23" height="3.23" fill="#a50f2d" stroke="none" stroke-width="1" />
<circle cx="63.40" cy="228.50" r="1.52" fill="#fff" stroke="#1f4e9c" stroke-width="1.0" />
<path d="M63.40,237.38 L65.02,240.29 L61.78,240.29 Z" fill="#1c3f94" stroke="none" stroke-width="1" />
<path d="M87.98,215.28 L91.02,218.32 M87.98,218.32 L91.02,215.28" fill="none" stroke="#4f2188" stroke-width="1.1" />
<rect x="87.89" y="229.88" width="3.23" height="3.23" fill="#a50f2d" stroke="none" stroke-width="1" />
<circle cx="86.50" cy="242.30" r="1.52" fill="#fff" stroke="#1f4e9c" stroke-width="1.0" />
<path d="M92.60,238.88 L94.21,241.79 L90.98,241.79 Z" fill="#1c3f94" stroke="none" stroke-width="1" />
<rect x="114.09" y="233.58" width="3.23" height="3.23" fill="#a50f2d" stroke="none" stroke-width="1" />
<path d="M114.18,238.98 L117.22,242.02 M114.18,242.02 L117.22,238.98" fill="none" stroke="#4f2188" stroke-width="1.1" />
<circle cx="112.50" cy="250.80" r="1.52" fill="#fff" stroke="#1f4e9c" stroke-width="1.0" />
<path d="M118.50,249.38 L120.11,252.29 L116.89,252.29 Z" fill="#1c3f94" stroke="none" stroke-width="1" />
<path d="M133.28,246.48 L136.32,249.52 M133.28,249.52 L136.32,246.48" fill="none" stroke="#4f2188" stroke-width="1.1" />
<rect x="147.58" y="247.38" width="3.23" height="3.23" fill="#a50f2d" stroke="none" stroke-width="1" />
<circle cx="134.80" cy="251.00" r="1.52" fill="#fff" stroke="#1f4e9c" stroke-width="1.0" />
<path d="M144.00,249.88 L145.62,252.79 L142.38,252.79 Z" fill="#1c3f94" stroke="none" stroke-width="1" />
</g>
<g id="panelE">
<text transform="translate(175.00 149.70) scale(1.12 1)" font-size="10" font-weight="bold" fill="#000" font-family="DejaVu Sans,Liberation Sans,sans-serif">E</text>
<text x="274.70" y="161.00" font-size="8.7" text-anchor="middle" fill="#231f20" stroke="#231f20" stroke-width="0.1" >LTC-IC</text>
<line x1="217.80" y1="173.00" x2="217.80" y2="251.50" stroke="#000" stroke-width="1.4" stroke-linecap="butt" />
<line x1="217.10" y1="250.80" x2="331.50" y2="250.80" stroke="#000" stroke-width="1.4" stroke-linecap="butt" />
<line x1="214.90" y1="175.80" x2="217.80" y2="175.80" stroke="#000" stroke-width="1.1" stroke-linecap="butt" />
<text x="212.10" y="178.47" font-size="6.3" text-anchor="end" fill="#231f20" stroke="#231f20" stroke-width="0.1" >150</text>
<line x1="214.90" y1="200.80" x2="217.80" y2="200.80" stroke="#000" stroke-width="1.1" stroke-linecap="butt" />
<text x="212.10" y="203.47" font-size="6.3" text-anchor="end" fill="#231f20" stroke="#231f20" stroke-width="0.1" >100</text>
<line x1="214.90" y1="225.80" x2="217.80" y2="225.80" stroke="#000" stroke-width="1.1" stroke-linecap="butt" />
<text x="212.10" y="228.47" font-size="6.3" text-anchor="end" fill="#231f20" stroke="#231f20" stroke-width="0.1" >50</text>
<line x1="214.90" y1="250.80" x2="217.80" y2="250.80" stroke="#000" stroke-width="1.1" stroke-linecap="butt" />
<text x="212.10" y="253.47" font-size="6.3" text-anchor="end" fill="#231f20" stroke="#231f20" stroke-width="0.1" >0</text>
<line x1="235.40" y1="250.80" x2="235.40" y2="253.70" stroke="#000" stroke-width="1.1" stroke-linecap="butt" />
<text x="235.40" y="262.70" font-size="6.74" text-anchor="middle" fill="#231f20" stroke="#231f20" stroke-width="0.1" >Control</text>
<line x1="261.50" y1="250.80" x2="261.50" y2="253.70" stroke="#000" stroke-width="1.1" stroke-linecap="butt" />
<text x="261.50" y="262.70" font-size="6.55" text-anchor="middle" fill="#231f20" stroke="#231f20" stroke-width="0.1" >SLC</text>
<line x1="287.50" y1="250.80" x2="287.50" y2="253.70" stroke="#000" stroke-width="1.1" stroke-linecap="butt" />
<text x="287.50" y="262.70" font-size="6.55" text-anchor="middle" fill="#231f20" stroke="#231f20" stroke-width="0.1" >VEN</text>
<line x1="313.60" y1="250.80" x2="313.60" y2="253.70" stroke="#000" stroke-width="1.1" stroke-linecap="butt" />
<text x="313.60" y="262.70" font-size="6.3" text-anchor="middle" fill="#231f20" stroke="#231f20" stroke-width="0.1" >SLC+VEN</text>
<text x="332.00" y="256.00" font-size="6.3" text-anchor="start" fill="#231f20" stroke="#231f20" stroke-width="0.1" >n=3</text>
<path d="M235.40,176.20 L235.40,172.40 L315.60,172.40 L315.60,176.20" fill="none" stroke="#000" stroke-width="1.0" />
<line x1="287.00" y1="172.40" x2="287.00" y2="176.20" stroke="#000" stroke-width="1.0" stroke-linecap="butt" />
<path d="M235.40,186.50 L235.40,182.70 L315.60,182.70 L315.60,186.50" fill="none" stroke="#000" stroke-width="1.0" />
<line x1="261.50" y1="182.70" x2="261.50" y2="186.50" stroke="#000" stroke-width="1.0" stroke-linecap="butt" />
<text x="260.40" y="170.60" font-size="5.3" text-anchor="middle" fill="#4a4a4a" >P&lt;0.0001</text>
<text x="300.50" y="170.60" font-size="5.3" text-anchor="middle" fill="#4a4a4a" >P&lt;0.0001</text>
<text x="247.40" y="180.60" font-size="5.3" text-anchor="middle" fill="#4a4a4a" >P&lt;0.0001</text>
<text x="288.30" y="180.60" font-size="5.3" text-anchor="middle" fill="#4a4a4a" >P=0.0025</text>
<line x1="228.00" y1="200.80" x2="243.00" y2="200.80" stroke="#000" stroke-width="1.3" stroke-linecap="butt" />
<line x1="253.00" y1="226.40" x2="270.00" y2="226.40" stroke="#000" stroke-width="1.3" stroke-linecap="butt" />
<line x1="279.00" y1="235.10" x2="296.00" y2="235.10" stroke="#000" stroke-width="1.3" stroke-linecap="butt" />
<line x1="305.00" y1="249.20" x2="322.00" y2="249.20" stroke="#000" stroke-width="1.3" stroke-linecap="butt" />
<rect x="226.38" y="199.19" width="3.23" height="3.23" fill="#a50f2d" stroke="none" stroke-width="1" />
<path d="M233.88,199.28 L236.92,202.32 M233.88,202.32 L236.92,199.28" fill="none" stroke="#4f2188" stroke-width="1.1" />
<path d="M242.50,199.38 L244.12,202.29 L240.88,202.29 Z" fill="#1c3f94" stroke="none" stroke-width="1" />
<path d="M261.50,220.38 L263.12,223.29 L259.88,223.29 Z" fill="#1c3f94" stroke="none" stroke-width="1" />
<path d="M259.98,224.88 L263.02,227.92 M259.98,227.92 L263.02,224.88" fill="none" stroke="#4f2188" stroke-width="1.1" />
<rect x="259.88" y="240.19" width="3.23" height="3.23" fill="#a50f2d" stroke="none" stroke-width="1" />
<path d="M285.98,228.28 L289.02,231.32 M285.98,231.32 L289.02,228.28" fill="none" stroke="#4f2188" stroke-width="1.1" />
<path d="M287.50,233.98 L289.12,236.89 L285.88,236.89 Z" fill="#1c3f94" stroke="none" stroke-width="1" />
<rect x="285.88" y="242.58" width="3.23" height="3.23" fill="#a50f2d" stroke="none" stroke-width="1" />
<path d="M310.50,244.88 L312.12,247.79 L308.88,247.79 Z" fill="#1c3f94" stroke="none" stroke-width="1" />
<rect x="314.99" y="247.58" width="3.23" height="3.23" fill="#a50f2d" stroke="none" stroke-width="1" />
<path d="M308.98,248.98 L312.02,252.02 M308.98,252.02 L312.02,248.98" fill="none" stroke="#4f2188" stroke-width="1.1" />
</g>
<g id="panelF">
<text transform="translate(346.40 150.10) scale(1.12 1)" font-size="10" font-weight="bold" fill="#000" font-family="DejaVu Sans,Liberation Sans,sans-serif">F</text>
<line x1="387.50" y1="159.60" x2="387.50" y2="251.80" stroke="#000" stroke-width="1.4" stroke-linecap="butt" />
<line x1="386.80" y1="251.10" x2="503.80" y2="251.10" stroke="#000" stroke-width="1.4" stroke-linecap="butt" />
<line x1="384.60" y1="165.20" x2="387.50" y2="165.20" stroke="#000" stroke-width="1.1" stroke-linecap="butt" />
<text x="381.90" y="167.90" font-size="6.3" text-anchor="end" fill="#231f20" stroke="#231f20" stroke-width="0.1" >100</text>
<line x1="384.60" y1="185.40" x2="387.50" y2="185.40" stroke="#000" stroke-width="1.1" stroke-linecap="butt" />
<text x="381.90" y="188.10" font-size="6.3" text-anchor="end" fill="#231f20" stroke="#231f20" stroke-width="0.1" >75</text>
<line x1="384.60" y1="205.50" x2="387.50" y2="205.50" stroke="#000" stroke-width="1.1" stroke-linecap="butt" />
<text x="381.90" y="208.20" font-size="6.3" text-anchor="end" fill="#231f20" stroke="#231f20" stroke-width="0.1" >50</text>
<line x1="384.60" y1="225.60" x2="387.50" y2="225.60" stroke="#000" stroke-width="1.1" stroke-linecap="butt" />
<text x="381.90" y="228.30" font-size="6.3" text-anchor="end" fill="#231f20" stroke="#231f20" stroke-width="0.1" >25</text>
<line x1="384.60" y1="245.70" x2="387.50" y2="245.70" stroke="#000" stroke-width="1.1" stroke-linecap="butt" />
<text x="381.90" y="248.40" font-size="6.3" text-anchor="end" fill="#231f20" stroke="#231f20" stroke-width="0.1" >0</text>
<text x="409.20" y="262.60" font-size="6.3" text-anchor="middle" fill="#231f20" stroke="#231f20" stroke-width="0.1" >VEN</text>
<text x="445.80" y="258.50" font-size="6.3" text-anchor="middle" fill="#231f20" stroke="#231f20" stroke-width="0.1" >SLC+VEN</text>
<text x="445.80" y="266.60" font-size="6.3" text-anchor="middle" fill="#231f20" stroke="#231f20" stroke-width="0.1" >0.25uM</text>
<text x="482.20" y="258.50" font-size="6.3" text-anchor="middle" fill="#231f20" stroke="#231f20" stroke-width="0.1" >SLC+VEN</text>
<text x="482.20" y="266.60" font-size="6.3" text-anchor="middle" fill="#231f20" stroke="#231f20" stroke-width="0.1" >0.35uM</text>
<path d="M409.2,160.8 L409.2,157.1 L482.5,157.1 L482.5,161.0" fill="none" stroke="#222" stroke-width="1.1" />
<text x="446.10" y="155.20" font-size="5.3" text-anchor="middle" fill="#4a4a4a" >P=0.055</text>
<text x="482.80" y="155.20" font-size="5.3" text-anchor="middle" fill="#4a4a4a" >P=0.03</text>
<line x1="395.40" y1="165.20" x2="422.70" y2="165.20" stroke="#000" stroke-width="1.0" stroke-linecap="butt" />
<circle cx="400.00" cy="165.20" r="1.15" fill="#5f8a26" stroke="#2a400e" stroke-width="0.4" />
<circle cx="402.05" cy="165.20" r="1.15" fill="#5f8a26" stroke="#2a400e" stroke-width="0.4" />
<circle cx="404.10" cy="165.20" r="1.15" fill="#5f8a26" stroke="#2a400e" stroke-width="0.4" />
<circle cx="406.15" cy="165.20" r="1.15" fill="#5f8a26" stroke="#2a400e" stroke-width="0.4" />
<circle cx="408.20" cy="165.20" r="1.15" fill="#5f8a26" stroke="#2a400e" stroke-width="0.4" />
<circle cx="410.25" cy="165.20" r="1.15" fill="#5f8a26" stroke="#2a400e" stroke-width="0.4" />
<circle cx="412.30" cy="165.20" r="1.15" fill="#5f8a26" stroke="#2a400e" stroke-width="0.4" />
<circle cx="414.35" cy="165.20" r="1.15" fill="#5f8a26" stroke="#2a400e" stroke-width="0.4" />
<circle cx="416.40" cy="165.20" r="1.15" fill="#5f8a26" stroke="#2a400e" stroke-width="0.4" />
<circle cx="418.45" cy="165.20" r="1.15" fill="#5f8a26" stroke="#2a400e" stroke-width="0.4" />
<rect x="432.00" y="206.50" width="27.70" height="31.20" fill="#cd8d80" stroke="none" stroke-width="1" />
<line x1="445.50" y1="194.60" x2="445.50" y2="206.50" stroke="#000" stroke-width="0.8" stroke-linecap="butt" />
<line x1="445.50" y1="237.70" x2="445.50" y2="244.60" stroke="#000" stroke-width="0.8" stroke-linecap="butt" />
<line x1="432.00" y1="211.50" x2="459.70" y2="211.50" stroke="#000" stroke-width="1.2" stroke-linecap="butt" />
<circle cx="445.50" cy="194.80" r="1.30" fill="#6b0f1a" stroke="none" stroke-width="1" />
<circle cx="445.50" cy="198.80" r="1.30" fill="#6b0f1a" stroke="none" stroke-width="1" />
<circle cx="445.50" cy="206.50" r="1.30" fill="#6b0f1a" stroke="none" stroke-width="1" />
<circle cx="444.40" cy="211.40" r="1.30" fill="#6b0f1a" stroke="none" stroke-width="1" />
<circle cx="446.60" cy="211.40" r="1.30" fill="#6b0f1a" stroke="none" stroke-width="1" />
<circle cx="445.50" cy="234.50" r="1.30" fill="#6b0f1a" stroke="none" stroke-width="1" />
<circle cx="445.50" cy="238.00" r="1.30" fill="#6b0f1a" stroke="none" stroke-width="1" />
<circle cx="445.50" cy="241.30" r="1.30" fill="#6b0f1a" stroke="none" stroke-width="1" />
<circle cx="445.50" cy="244.30" r="1.30" fill="#6b0f1a" stroke="none" stroke-width="1" />
<text x="433.50" y="199.40" font-size="5.4" text-anchor="start" fill="#333" stroke="#333" stroke-width="0.1" >#10'</text>
<text x="449.90" y="195.00" font-size="5.4" text-anchor="start" fill="#333" stroke="#333" stroke-width="0.1" >#3</text>
<text x="449.90" y="206.80" font-size="5.4" text-anchor="start" fill="#333" stroke="#333" stroke-width="0.1" >#5</text>
<text x="435.70" y="217.20" font-size="5.4" text-anchor="start" fill="#333" stroke="#333" stroke-width="0.1" >#15'</text>
<text x="449.90" y="217.20" font-size="5.4" text-anchor="start" fill="#333" stroke="#333" stroke-width="0.1" >#2</text>
<text x="442.70" y="230.40" font-size="5.4" text-anchor="start" fill="#333" stroke="#333" stroke-width="0.1" >#16</text>
<text x="433.70" y="237.40" font-size="5.4" text-anchor="start" fill="#333" stroke="#333" stroke-width="0.1" >#11'</text>
<text x="449.90" y="241.40" font-size="5.4" text-anchor="start" fill="#333" stroke="#333" stroke-width="0.1" >#4</text>
<text x="435.20" y="245.40" font-size="5.4" text-anchor="start" fill="#333" stroke="#333" stroke-width="0.1" >#17'</text>
<rect x="468.20" y="228.00" width="27.50" height="12.80" fill="#d8b47e" stroke="none" stroke-width="1" />
<line x1="482.20" y1="225.70" x2="482.20" y2="228.00" stroke="#000" stroke-width="0.8" stroke-linecap="butt" />
<line x1="482.20" y1="240.80" x2="482.20" y2="245.70" stroke="#000" stroke-width="0.8" stroke-linecap="butt" />
<line x1="468.20" y1="237.40" x2="495.70" y2="237.40" stroke="#000" stroke-width="1.2" stroke-linecap="butt" />
<circle cx="481.00" cy="225.60" r="1.30" fill="#4a2a10" stroke="none" stroke-width="1" />
<circle cx="483.50" cy="225.60" r="1.30" fill="#4a2a10" stroke="none" stroke-width="1" />
<circle cx="482.20" cy="233.50" r="1.30" fill="#4a2a10" stroke="none" stroke-width="1" />
<circle cx="481.00" cy="240.50" r="1.30" fill="#4a2a10" stroke="none" stroke-width="1" />
<circle cx="483.50" cy="240.50" r="1.30" fill="#4a2a10" stroke="none" stroke-width="1" />
<circle cx="482.20" cy="245.50" r="1.30" fill="#4a2a10" stroke="none" stroke-width="1" />
<text x="470.50" y="224.00" font-size="5.4" text-anchor="start" fill="#333" stroke="#333" stroke-width="0.1" >#10'</text>
<text x="487.90" y="224.00" font-size="5.4" text-anchor="start" fill="#333" stroke="#333" stroke-width="0.1" >#5</text>
<text x="486.90" y="233.80" font-size="5.4" text-anchor="start" fill="#333" stroke="#333" stroke-width="0.1" >#2</text>
<text x="472.70" y="242.20" font-size="5.4" text-anchor="start" fill="#333" stroke="#333" stroke-width="0.1" >#4</text>
<text x="487.70" y="242.20" font-size="5.4" text-anchor="start" fill="#333" stroke="#333" stroke-width="0.1" >#16</text>
<text x="487.20" y="247.00" font-size="5.4" text-anchor="start" fill="#333" stroke="#333" stroke-width="0.1" >#11</text>
</g>
<g id="panelG">
<text transform="translate(7.50 280.20) scale(1.12 1)" font-size="10" font-weight="bold" fill="#000" font-family="DejaVu Sans,Liberation Sans,sans-serif">G</text>
<text x="99.60" y="287.70" font-size="8.7" text-anchor="middle" fill="#231f20" stroke="#231f20" stroke-width="0.1" >Total CFC (NBM)</text>
<line x1="45.60" y1="293.80" x2="45.60" y2="367.20" stroke="#000" stroke-width="1.4" stroke-linecap="butt" />
<line x1="44.90" y1="366.50" x2="152.60" y2="366.50" stroke="#000" stroke-width="1.4" stroke-linecap="butt" />
<line x1="42.30" y1="295.80" x2="45.60" y2="295.80" stroke="#000" stroke-width="1.1" stroke-linecap="butt" />
<text x="39.90" y="298.47" font-size="6.3" text-anchor="end" fill="#231f20" stroke="#231f20" stroke-width="0.1" >200</text>
<line x1="42.30" y1="313.50" x2="45.60" y2="313.50" stroke="#000" stroke-width="1.1" stroke-linecap="butt" />
<text x="39.90" y="316.17" font-size="6.3" text-anchor="end" fill="#231f20" stroke="#231f20" stroke-width="0.1" >150</text>
<line x1="42.30" y1="331.20" x2="45.60" y2="331.20" stroke="#000" stroke-width="1.1" stroke-linecap="butt" />
<text x="39.90" y="333.87" font-size="6.3" text-anchor="end" fill="#231f20" stroke="#231f20" stroke-width="0.1" >100</text>
<line x1="42.30" y1="348.90" x2="45.60" y2="348.90" stroke="#000" stroke-width="1.1" stroke-linecap="butt" />
<text x="39.90" y="351.57" font-size="6.3" text-anchor="end" fill="#231f20" stroke="#231f20" stroke-width="0.1" >50</text>
<line x1="42.30" y1="366.50" x2="45.60" y2="366.50" stroke="#000" stroke-width="1.1" stroke-linecap="butt" />
<text x="39.90" y="369.17" font-size="6.3" text-anchor="end" fill="#231f20" stroke="#231f20" stroke-width="0.1" >0</text>
<line x1="53.40" y1="366.50" x2="53.40" y2="369.80" stroke="#000" stroke-width="1.1" stroke-linecap="butt" />
<line x1="64.76" y1="366.50" x2="64.76" y2="369.80" stroke="#000" stroke-width="1.1" stroke-linecap="butt" />
<line x1="76.12" y1="366.50" x2="76.12" y2="369.80" stroke="#000" stroke-width="1.1" stroke-linecap="butt" />
<line x1="87.48" y1="366.50" x2="87.48" y2="369.80" stroke="#000" stroke-width="1.1" stroke-linecap="butt" />
<line x1="98.84" y1="366.50" x2="98.84" y2="369.80" stroke="#000" stroke-width="1.1" stroke-linecap="butt" />
<line x1="110.20" y1="366.50" x2="110.20" y2="369.80" stroke="#000" stroke-width="1.1" stroke-linecap="butt" />
<line x1="121.56" y1="366.50" x2="121.56" y2="369.80" stroke="#000" stroke-width="1.1" stroke-linecap="butt" />
<line x1="132.92" y1="366.50" x2="132.92" y2="369.80" stroke="#000" stroke-width="1.1" stroke-linecap="butt" />
<line x1="144.28" y1="366.50" x2="144.28" y2="369.80" stroke="#000" stroke-width="1.1" stroke-linecap="butt" />
<text x="56.90" y="376.60" font-size="6.2" text-anchor="end" fill="#231f20" stroke="#231f20" stroke-width="0.1" transform="rotate(-45 56.90 376.60)" >Control</text>
<text x="68.26" y="376.60" font-size="6.2" text-anchor="end" fill="#231f20" stroke="#231f20" stroke-width="0.1" transform="rotate(-45 68.26 376.60)" >SLC 0.25</text>
<text x="79.62" y="376.60" font-size="6.2" text-anchor="end" fill="#231f20" stroke="#231f20" stroke-width="0.1" transform="rotate(-45 79.62 376.60)" >SLC 0.35</text>
<text x="90.98" y="376.60" font-size="6.2" text-anchor="end" fill="#231f20" stroke="#231f20" stroke-width="0.1" transform="rotate(-45 90.98 376.60)" >VEN 0.2</text>
<text x="102.34" y="376.60" font-size="6.2" text-anchor="end" fill="#231f20" stroke="#231f20" stroke-width="0.1" transform="rotate(-45 102.34 376.60)" >VEN 0.5</text>
<text x="113.70" y="376.60" font-size="6.45" text-anchor="end" fill="#231f20" stroke="#231f20" stroke-width="0.1" transform="rotate(-45 113.70 376.60)" >SLC+VEN 0.25+0.2</text>
<text x="125.06" y="376.60" font-size="6.45" text-anchor="end" fill="#231f20" stroke="#231f20" stroke-width="0.1" transform="rotate(-45 125.06 376.60)" >SLC+VEN 0.25+0.5</text>
<text x="136.42" y="376.60" font-size="6.45" text-anchor="end" fill="#231f20" stroke="#231f20" stroke-width="0.1" transform="rotate(-45 136.42 376.60)" >SLC+VEN 0.35+0.2</text>
<text x="147.78" y="376.60" font-size="6.45" text-anchor="end" fill="#231f20" stroke="#231f20" stroke-width="0.1" transform="rotate(-45 147.78 376.60)" >SLC+VEN 0.35+0.5</text>
<text x="152.60" y="372.60" font-size="6.3" text-anchor="start" fill="#231f20" stroke="#231f20" stroke-width="0.1" >n=4</text>
<circle cx="157.00" cy="295.80" r="1.40" fill="#1b2a5c" stroke="none" stroke-width="1" />
<text x="161.70" y="297.70" font-size="5.4" text-anchor="start" fill="#333" stroke="#333" stroke-width="0.1" >#1</text>
<rect x="155.60" y="303.25" width="2.80" height="2.80" fill="#12348a" stroke="none" stroke-width="1" />
<text x="161.70" y="306.55" font-size="5.4" text-anchor="start" fill="#333" stroke="#333" stroke-width="0.1" >#2</text>
<path d="M157.00,312.10 L158.40,314.62 L155.60,314.62 Z" fill="#a3b964" stroke="none" stroke-width="1" />
<text x="161.70" y="315.40" font-size="5.4" text-anchor="start" fill="#333" stroke="#333" stroke-width="0.1" >#3</text>
<path d="M157.00,323.75 L158.40,321.23 L155.60,321.23 Z" fill="#f5aa62" stroke="none" stroke-width="1" />
<text x="161.70" y="324.25" font-size="5.4" text-anchor="start" fill="#333" stroke="#333" stroke-width="0.1" >#4</text>
<path d="M53.40,304.00 L54.90,301.30 L51.90,301.30 Z" fill="#f5aa62" stroke="none" stroke-width="1" />
<path d="M53.40,326.20 L54.90,328.90 L51.90,328.90 Z" fill="#a3b964" stroke="none" stroke-width="1" />
<line x1="49.20" y1="324.30" x2="57.60" y2="324.30" stroke="#000" stroke-width="1.2" stroke-linecap="butt" />
<rect x="51.90" y="320.30" width="3.00" height="3.00" fill="#12348a" stroke="none" stroke-width="1" />
<circle cx="53.40" cy="340.80" r="1.55" fill="#1b2a5c" stroke="none" stroke-width="1" />
<path d="M64.76,311.10 L66.26,308.40 L63.26,308.40 Z" fill="#f5aa62" stroke="none" stroke-width="1" />
<path d="M64.76,330.50 L66.26,333.20 L63.26,333.20 Z" fill="#a3b964" stroke="none" stroke-width="1" />
<line x1="60.56" y1="329.70" x2="68.96" y2="329.70" stroke="#000" stroke-width="1.2" stroke-linecap="butt" />
<rect x="63.26" y="326.20" width="3.00" height="3.00" fill="#12348a" stroke="none" stroke-width="1" />
<circle cx="64.76" cy="336.50" r="1.55" fill="#1b2a5c" stroke="none" stroke-width="1" />
<path d="M76.12,315.90 L77.62,313.20 L74.62,313.20 Z" fill="#f5aa62" stroke="none" stroke-width="1" />
<path d="M76.12,331.90 L77.62,334.60 L74.62,334.60 Z" fill="#a3b964" stroke="none" stroke-width="1" />
<line x1="71.92" y1="330.60" x2="80.32" y2="330.60" stroke="#000" stroke-width="1.2" stroke-linecap="butt" />
<rect x="74.62" y="327.00" width="3.00" height="3.00" fill="#12348a" stroke="none" stroke-width="1" />
<circle cx="76.12" cy="340.60" r="1.55" fill="#1b2a5c" stroke="none" stroke-width="1" />
<path d="M87.48,305.00 L88.98,302.30 L85.98,302.30 Z" fill="#f5aa62" stroke="none" stroke-width="1" />
<path d="M87.48,329.70 L88.98,332.40 L85.98,332.40 Z" fill="#a3b964" stroke="none" stroke-width="1" />
<line x1="83.28" y1="328.20" x2="91.68" y2="328.20" stroke="#000" stroke-width="1.2" stroke-linecap="butt" />
<rect x="85.98" y="324.20" width="3.00" height="3.00" fill="#12348a" stroke="none" stroke-width="1" />
<circle cx="87.48" cy="340.20" r="1.55" fill="#1b2a5c" stroke="none" stroke-width="1" />
<path d="M98.84,311.10 L100.34,308.40 L97.34,308.40 Z" fill="#f5aa62" stroke="none" stroke-width="1" />
<path d="M98.84,329.00 L100.34,331.70 L97.34,331.70 Z" fill="#a3b964" stroke="none" stroke-width="1" />
<line x1="94.64" y1="328.30" x2="103.04" y2="328.30" stroke="#000" stroke-width="1.2" stroke-linecap="butt" />
<rect x="97.34" y="325.50" width="3.00" height="3.00" fill="#12348a" stroke="none" stroke-width="1" />
<circle cx="98.84" cy="339.50" r="1.55" fill="#1b2a5c" stroke="none" stroke-width="1" />
<path d="M110.20,312.70 L111.70,310.00 L108.70,310.00 Z" fill="#f5aa62" stroke="none" stroke-width="1" />
<path d="M110.20,334.30 L111.70,337.00 L108.70,337.00 Z" fill="#a3b964" stroke="none" stroke-width="1" />
<line x1="106.00" y1="334.30" x2="114.40" y2="334.30" stroke="#000" stroke-width="1.2" stroke-linecap="butt" />
<rect x="111.00" y="331.90" width="3.00" height="3.00" fill="#12348a" stroke="none" stroke-width="1" />
<circle cx="110.20" cy="343.80" r="1.55" fill="#1b2a5c" stroke="none" stroke-width="1" />
<path d="M121.56,317.50 L123.06,314.80 L120.06,314.80 Z" fill="#f5aa62" stroke="none" stroke-width="1" />
<path d="M124.06,339.50 L125.56,342.20 L122.56,342.20 Z" fill="#a3b964" stroke="none" stroke-width="1" />
<line x1="117.36" y1="336.20" x2="125.76" y2="336.20" stroke="#000" stroke-width="1.2" stroke-linecap="butt" />
<rect x="120.06" y="330.80" width="3.00" height="3.00" fill="#12348a" stroke="none" stroke-width="1" />
<circle cx="119.26" cy="343.40" r="1.55" fill="#1b2a5c" stroke="none" stroke-width="1" />
<path d="M132.92,322.70 L134.42,320.00 L131.42,320.00 Z" fill="#f5aa62" stroke="none" stroke-width="1" />
<path d="M132.92,339.30 L134.42,342.00 L131.42,342.00 Z" fill="#a3b964" stroke="none" stroke-width="1" />
<line x1="128.72" y1="339.20" x2="137.12" y2="339.20" stroke="#000" stroke-width="1.2" stroke-linecap="butt" />
<rect x="133.82" y="336.70" width="3.00" height="3.00" fill="#12348a" stroke="none" stroke-width="1" />
<circle cx="132.92" cy="345.70" r="1.55" fill="#1b2a5c" stroke="none" stroke-width="1" />
<path d="M144.28,322.30 L145.78,319.60 L142.78,319.60 Z" fill="#f5aa62" stroke="none" stroke-width="1" />
<path d="M144.28,342.30 L145.78,345.00 L142.78,345.00 Z" fill="#a3b964" stroke="none" stroke-width="1" />
<line x1="140.08" y1="340.30" x2="148.48" y2="340.30" stroke="#000" stroke-width="1.2" stroke-linecap="butt" />
<rect x="142.78" y="335.70" width="3.00" height="3.00" fill="#12348a" stroke="none" stroke-width="1" />
<circle cx="144.28" cy="346.50" r="1.55" fill="#1b2a5c" stroke="none" stroke-width="1" />
</g>
<g id="panelH">
<text transform="translate(175.00 280.50) scale(1.12 1)" font-size="10" font-weight="bold" fill="#000" font-family="DejaVu Sans,Liberation Sans,sans-serif">H</text>
<text x="267.00" y="287.70" font-size="8.7" text-anchor="middle" fill="#231f20" stroke="#231f20" stroke-width="0.1" >Total CFC re-plating (NBM)</text>
<line x1="217.80" y1="298.70" x2="217.80" y2="367.30" stroke="#000" stroke-width="1.4" stroke-linecap="butt" />
<line x1="217.10" y1="366.60" x2="315.70" y2="366.60" stroke="#000" stroke-width="1.4" stroke-linecap="butt" />
<line x1="214.90" y1="301.70" x2="217.80" y2="301.70" stroke="#000" stroke-width="1.1" stroke-linecap="butt" />
<text x="212.10" y="304.37" font-size="6.3" text-anchor="end" fill="#231f20" stroke="#231f20" stroke-width="0.1" >40</text>
<line x1="214.90" y1="318.00" x2="217.80" y2="318.00" stroke="#000" stroke-width="1.1" stroke-linecap="butt" />
<text x="212.10" y="320.67" font-size="6.3" text-anchor="end" fill="#231f20" stroke="#231f20" stroke-width="0.1" >30</text>
<line x1="214.90" y1="334.20" x2="217.80" y2="334.20" stroke="#000" stroke-width="1.1" stroke-linecap="butt" />
<text x="212.10" y="336.87" font-size="6.3" text-anchor="end" fill="#231f20" stroke="#231f20" stroke-width="0.1" >20</text>
<line x1="214.90" y1="350.50" x2="217.80" y2="350.50" stroke="#000" stroke-width="1.1" stroke-linecap="butt" />
<text x="212.10" y="353.17" font-size="6.3" text-anchor="end" fill="#231f20" stroke="#231f20" stroke-width="0.1" >10</text>
<line x1="214.90" y1="366.70" x2="217.80" y2="366.70" stroke="#000" stroke-width="1.1" stroke-linecap="butt" />
<text x="212.10" y="369.37" font-size="6.3" text-anchor="end" fill="#231f20" stroke="#231f20" stroke-width="0.1" >0</text>
<line x1="232.60" y1="366.60" x2="232.60" y2="369.50" stroke="#000" stroke-width="1.1" stroke-linecap="butt" />
<text x="232.60" y="378.20" font-size="6.74" text-anchor="middle" fill="#231f20" stroke="#231f20" stroke-width="0.1" >Control</text>
<line x1="255.40" y1="366.60" x2="255.40" y2="369.50" stroke="#000" stroke-width="1.1" stroke-linecap="butt" />
<text x="255.40" y="378.20" font-size="6.55" text-anchor="middle" fill="#231f20" stroke="#231f20" stroke-width="0.1" >SLC</text>
<line x1="278.00" y1="366.60" x2="278.00" y2="369.50" stroke="#000" stroke-width="1.1" stroke-linecap="butt" />
<text x="278.00" y="378.20" font-size="6.55" text-anchor="middle" fill="#231f20" stroke="#231f20" stroke-width="0.1" >VEN</text>
<line x1="300.50" y1="366.60" x2="300.50" y2="369.50" stroke="#000" stroke-width="1.1" stroke-linecap="butt" />
<text x="300.50" y="378.20" font-size="6.3" text-anchor="middle" fill="#231f20" stroke="#231f20" stroke-width="0.1" >SLC+VEN</text>
<text x="316.00" y="372.60" font-size="6.3" text-anchor="start" fill="#231f20" stroke="#231f20" stroke-width="0.1" >n=3</text>
<circle cx="319.80" cy="301.20" r="1.40" fill="#1b2a5c" stroke="none" stroke-width="1" />
<text x="324.60" y="303.10" font-size="5.4" text-anchor="start" fill="#333" stroke="#333" stroke-width="0.1" >#1</text>
<path d="M319.80,309.20 L321.20,311.72 L318.40,311.72 Z" fill="#a3b964" stroke="none" stroke-width="1" />
<text x="324.60" y="312.50" font-size="5.4" text-anchor="start" fill="#333" stroke="#333" stroke-width="0.1" >#3</text>
<path d="M319.80,320.60 L321.20,318.08 L318.40,318.08 Z" fill="#f5aa62" stroke="none" stroke-width="1" />
<text x="324.60" y="321.10" font-size="5.4" text-anchor="start" fill="#333" stroke="#333" stroke-width="0.1" >#4</text>
<line x1="225.40" y1="316.50" x2="240.60" y2="316.50" stroke="#000" stroke-width="1.3" stroke-linecap="butt" />
<line x1="248.00" y1="320.20" x2="263.00" y2="320.20" stroke="#000" stroke-width="1.3" stroke-linecap="butt" />
<line x1="270.40" y1="321.20" x2="285.40" y2="321.20" stroke="#000" stroke-width="1.3" stroke-linecap="butt" />
<line x1="293.00" y1="318.80" x2="308.00" y2="318.80" stroke="#000" stroke-width="1.3" stroke-linecap="butt" />
<path d="M230.20,309.30 L231.60,306.78 L228.80,306.78 Z" fill="#f5aa62" stroke="none" stroke-width="1" />
<path d="M235.40,308.00 L236.80,310.52 L234.00,310.52 Z" fill="#a3b964" stroke="none" stroke-width="1" />
<circle cx="232.80" cy="332.60" r="1.50" fill="#1b2a5c" stroke="none" stroke-width="1" />
<path d="M255.60,307.80 L257.00,310.32 L254.20,310.32 Z" fill="#a3b964" stroke="none" stroke-width="1" />
<path d="M255.60,315.10 L257.00,312.58 L254.20,312.58 Z" fill="#f5aa62" stroke="none" stroke-width="1" />
<circle cx="255.40" cy="337.70" r="1.50" fill="#1b2a5c" stroke="none" stroke-width="1" />
<path d="M277.90,306.80 L279.30,304.28 L276.50,304.28 Z" fill="#f5aa62" stroke="none" stroke-width="1" />
<path d="M277.90,313.60 L279.30,316.12 L276.50,316.12 Z" fill="#a3b964" stroke="none" stroke-width="1" />
<circle cx="277.80" cy="343.20" r="1.50" fill="#1b2a5c" stroke="none" stroke-width="1" />
<path d="M297.70,306.30 L299.10,308.82 L296.30,308.82 Z" fill="#a3b964" stroke="none" stroke-width="1" />
<path d="M302.90,311.00 L304.30,308.48 L301.50,308.48 Z" fill="#f5aa62" stroke="none" stroke-width="1" />
<circle cx="300.50" cy="339.20" r="1.50" fill="#1b2a5c" stroke="none" stroke-width="1" />
</g>
<g id="panelI">
<text transform="translate(356.50 280.50) scale(0.8 1)" font-size="10" font-weight="bold" fill="#000" font-family="DejaVu Sans,Liberation Sans,sans-serif">I</text>
<text x="434.50" y="296.70" font-size="8.7" text-anchor="middle" fill="#231f20" stroke="#231f20" stroke-width="0.1" >Total CFC (NBM)</text>
<rect x="391.20" y="329.50" width="6.00" height="27.40" fill="#c6c4cc" stroke="none" stroke-width="1" />
<rect x="391.20" y="356.90" width="6.00" height="9.60" fill="#da8d7d" stroke="none" stroke-width="1" />
<line x1="394.20" y1="353.70" x2="394.20" y2="356.90" stroke="#1a1a1a" stroke-width="0.9" stroke-linecap="butt" />
<line x1="392.50" y1="353.70" x2="395.90" y2="353.70" stroke="#1a1a1a" stroke-width="0.9" stroke-linecap="butt" />
<path d="M392.60,354.30 L395.80,354.30 L394.20,356.30 Z" fill="#1a1a1a" stroke="none" stroke-width="1" />
<line x1="394.20" y1="318.50" x2="394.20" y2="329.50" stroke="#1a1a1a" stroke-width="0.9" stroke-linecap="butt" />
<line x1="392.40" y1="318.50" x2="396.00" y2="318.50" stroke="#1a1a1a" stroke-width="0.9" stroke-linecap="butt" />
<path d="M392.50,329.50 L395.90,329.50 L394.20,327.30 Z" fill="#1a1a1a" stroke="none" stroke-width="1" />
<rect x="401.20" y="332.00" width="6.00" height="26.20" fill="#c6c4cc" stroke="none" stroke-width="1" />
<rect x="401.20" y="358.20" width="6.00" height="8.30" fill="#da8d7d" stroke="none" stroke-width="1" />
<line x1="404.20" y1="355.00" x2="404.20" y2="358.20" stroke="#1a1a1a" stroke-width="0.9" stroke-linecap="butt" />
<line x1="402.50" y1="355.00" x2="405.90" y2="355.00" stroke="#1a1a1a" stroke-width="0.9" stroke-linecap="butt" />
<path d="M402.60,355.60 L405.80,355.60 L404.20,357.60 Z" fill="#1a1a1a" stroke="none" stroke-width="1" />
<line x1="404.20" y1="322.10" x2="404.20" y2="332.00" stroke="#1a1a1a" stroke-width="0.9" stroke-linecap="butt" />
<line x1="402.40" y1="322.10" x2="406.00" y2="322.10" stroke="#1a1a1a" stroke-width="0.9" stroke-linecap="butt" />
<path d="M402.50,332.00 L405.90,332.00 L404.20,329.80 Z" fill="#1a1a1a" stroke="none" stroke-width="1" />
<rect x="411.20" y="334.20" width="6.00" height="25.00" fill="#c6c4cc" stroke="none" stroke-width="1" />
<rect x="411.20" y="359.20" width="6.00" height="7.30" fill="#da8d7d" stroke="none" stroke-width="1" />
<line x1="414.20" y1="356.00" x2="414.20" y2="359.20" stroke="#1a1a1a" stroke-width="0.9" stroke-linecap="butt" />
<line x1="412.50" y1="356.00" x2="415.90" y2="356.00" stroke="#1a1a1a" stroke-width="0.9" stroke-linecap="butt" />
<path d="M412.60,356.60 L415.80,356.60 L414.20,358.60 Z" fill="#1a1a1a" stroke="none" stroke-width="1" />
<line x1="414.20" y1="324.60" x2="414.20" y2="334.20" stroke="#1a1a1a" stroke-width="0.9" stroke-linecap="butt" />
<line x1="412.40" y1="324.60" x2="416.00" y2="324.60" stroke="#1a1a1a" stroke-width="0.9" stroke-linecap="butt" />
<path d="M412.50,334.20 L415.90,334.20 L414.20,332.00 Z" fill="#1a1a1a" stroke="none" stroke-width="1" />
<rect x="421.20" y="331.00" width="6.00" height="25.50" fill="#c6c4cc" stroke="none" stroke-width="1" />
<rect x="421.20" y="356.50" width="6.00" height="10.00" fill="#da8d7d" stroke="none" stroke-width="1" />
<line x1="424.20" y1="353.30" x2="424.20" y2="356.50" stroke="#1a1a1a" stroke-width="0.9" stroke-linecap="butt" />
<line x1="422.50" y1="353.30" x2="425.90" y2="353.30" stroke="#1a1a1a" stroke-width="0.9" stroke-linecap="butt" />
<path d="M422.60,353.90 L425.80,353.90 L424.20,355.90 Z" fill="#1a1a1a" stroke="none" stroke-width="1" />
<line x1="424.20" y1="320.20" x2="424.20" y2="331.00" stroke="#1a1a1a" stroke-width="0.9" stroke-linecap="butt" />
<line x1="422.40" y1="320.20" x2="426.00" y2="320.20" stroke="#1a1a1a" stroke-width="0.9" stroke-linecap="butt" />
<path d="M422.50,331.00 L425.90,331.00 L424.20,328.80 Z" fill="#1a1a1a" stroke="none" stroke-width="1" />
<rect x="431.20" y="332.00" width="6.00" height="23.70" fill="#c6c4cc" stroke="none" stroke-width="1" />
<rect x="431.20" y="355.70" width="6.00" height="10.80" fill="#da8d7d" stroke="none" stroke-width="1" />
<line x1="434.20" y1="352.50" x2="434.20" y2="355.70" stroke="#1a1a1a" stroke-width="0.9" stroke-linecap="butt" />
<line x1="432.50" y1="352.50" x2="435.90" y2="352.50" stroke="#1a1a1a" stroke-width="0.9" stroke-linecap="butt" />
<path d="M432.60,353.10 L435.80,353.10 L434.20,355.10 Z" fill="#1a1a1a" stroke="none" stroke-width="1" />
<line x1="434.20" y1="320.80" x2="434.20" y2="332.00" stroke="#1a1a1a" stroke-width="0.9" stroke-linecap="butt" />
<line x1="432.40" y1="320.80" x2="436.00" y2="320.80" stroke="#1a1a1a" stroke-width="0.9" stroke-linecap="butt" />
<path d="M432.50,332.00 L435.90,332.00 L434.20,329.80 Z" fill="#1a1a1a" stroke="none" stroke-width="1" />
<rect x="441.20" y="335.40" width="6.00" height="24.60" fill="#c6c4cc" stroke="none" stroke-width="1" />
<rect x="441.20" y="360.00" width="6.00" height="6.50" fill="#da8d7d" stroke="none" stroke-width="1" />
<line x1="444.20" y1="356.80" x2="444.20" y2="360.00" stroke="#1a1a1a" stroke-width="0.9" stroke-linecap="butt" />
<line x1="442.50" y1="356.80" x2="445.90" y2="356.80" stroke="#1a1a1a" stroke-width="0.9" stroke-linecap="butt" />
<path d="M442.60,357.40 L445.80,357.40 L444.20,359.40 Z" fill="#1a1a1a" stroke="none" stroke-width="1" />
<line x1="444.20" y1="324.20" x2="444.20" y2="335.40" stroke="#1a1a1a" stroke-width="0.9" stroke-linecap="butt" />
<line x1="442.40" y1="324.20" x2="446.00" y2="324.20" stroke="#1a1a1a" stroke-width="0.9" stroke-linecap="butt" />
<path d="M442.50,335.40 L445.90,335.40 L444.20,333.20 Z" fill="#1a1a1a" stroke="none" stroke-width="1" />
<rect x="451.20" y="337.70" width="6.00" height="20.70" fill="#c6c4cc" stroke="none" stroke-width="1" />
<rect x="451.20" y="358.40" width="6.00" height="8.10" fill="#da8d7d" stroke="none" stroke-width="1" />
<line x1="454.20" y1="355.20" x2="454.20" y2="358.40" stroke="#1a1a1a" stroke-width="0.9" stroke-linecap="butt" />
<line x1="452.50" y1="355.20" x2="455.90" y2="355.20" stroke="#1a1a1a" stroke-width="0.9" stroke-linecap="butt" />
<path d="M452.60,355.80 L455.80,355.80 L454.20,357.80 Z" fill="#1a1a1a" stroke="none" stroke-width="1" />
<line x1="454.20" y1="326.20" x2="454.20" y2="337.70" stroke="#1a1a1a" stroke-width="0.9" stroke-linecap="butt" />
<line x1="452.40" y1="326.20" x2="456.00" y2="326.20" stroke="#1a1a1a" stroke-width="0.9" stroke-linecap="butt" />
<path d="M452.50,337.70 L455.90,337.70 L454.20,335.50 Z" fill="#1a1a1a" stroke="none" stroke-width="1" />
<rect x="461.20" y="340.50" width="6.00" height="20.30" fill="#c6c4cc" stroke="none" stroke-width="1" />
<rect x="461.20" y="360.80" width="6.00" height="5.70" fill="#da8d7d" stroke="none" stroke-width="1" />
<line x1="464.20" y1="357.60" x2="464.20" y2="360.80" stroke="#1a1a1a" stroke-width="0.9" stroke-linecap="butt" />
<line x1="462.50" y1="357.60" x2="465.90" y2="357.60" stroke="#1a1a1a" stroke-width="0.9" stroke-linecap="butt" />
<path d="M462.60,358.20 L465.80,358.20 L464.20,360.20 Z" fill="#1a1a1a" stroke="none" stroke-width="1" />
<line x1="464.20" y1="331.50" x2="464.20" y2="340.50" stroke="#1a1a1a" stroke-width="0.9" stroke-linecap="butt" />
<line x1="462.40" y1="331.50" x2="466.00" y2="331.50" stroke="#1a1a1a" stroke-width="0.9" stroke-linecap="butt" />
<path d="M462.50,340.50 L465.90,340.50 L464.20,338.30 Z" fill="#1a1a1a" stroke="none" stroke-width="1" />
<rect x="471.20" y="341.00" width="6.00" height="18.70" fill="#c6c4cc" stroke="none" stroke-width="1" />
<rect x="471.20" y="359.70" width="6.00" height="6.80" fill="#da8d7d" stroke="none" stroke-width="1" />
<line x1="474.20" y1="356.50" x2="474.20" y2="359.70" stroke="#1a1a1a" stroke-width="0.9" stroke-linecap="butt" />
<line x1="472.50" y1="356.50" x2="475.90" y2="356.50" stroke="#1a1a1a" stroke-width="0.9" stroke-linecap="butt" />
<path d="M472.60,357.10 L475.80,357.10 L474.20,359.10 Z" fill="#1a1a1a" stroke="none" stroke-width="1" />
<line x1="474.20" y1="331.50" x2="474.20" y2="341.00" stroke="#1a1a1a" stroke-width="0.9" stroke-linecap="butt" />
<line x1="472.40" y1="331.50" x2="476.00" y2="331.50" stroke="#1a1a1a" stroke-width="0.9" stroke-linecap="butt" />
<path d="M472.50,341.00 L475.90,341.00 L474.20,338.80 Z" fill="#1a1a1a" stroke="none" stroke-width="1" />
<line x1="387.50" y1="302.50" x2="387.50" y2="367.20" stroke="#000" stroke-width="1.4" stroke-linecap="butt" />
<line x1="386.80" y1="366.50" x2="480.80" y2="366.50" stroke="#000" stroke-width="1.4" stroke-linecap="butt" />
<line x1="384.20" y1="304.80" x2="387.50" y2="304.80" stroke="#000" stroke-width="1.1" stroke-linecap="butt" />
<text x="381.80" y="307.47" font-size="6.3" text-anchor="end" fill="#231f20" stroke="#231f20" stroke-width="0.1" >200</text>
<line x1="384.20" y1="320.20" x2="387.50" y2="320.20" stroke="#000" stroke-width="1.1" stroke-linecap="butt" />
<text x="381.80" y="322.87" font-size="6.3" text-anchor="end" fill="#231f20" stroke="#231f20" stroke-width="0.1" >150</text>
<line x1="384.20" y1="335.70" x2="387.50" y2="335.70" stroke="#000" stroke-width="1.1" stroke-linecap="butt" />
<text x="381.80" y="338.37" font-size="6.3" text-anchor="end" fill="#231f20" stroke="#231f20" stroke-width="0.1" >100</text>
<line x1="384.20" y1="351.10" x2="387.50" y2="351.10" stroke="#000" stroke-width="1.1" stroke-linecap="butt" />
<text x="381.80" y="353.77" font-size="6.3" text-anchor="end" fill="#231f20" stroke="#231f20" stroke-width="0.1" >50</text>
<line x1="384.20" y1="366.50" x2="387.50" y2="366.50" stroke="#000" stroke-width="1.1" stroke-linecap="butt" />
<text x="381.80" y="369.17" font-size="6.3" text-anchor="end" fill="#231f20" stroke="#231f20" stroke-width="0.1" >0</text>
<line x1="394.20" y1="366.50" x2="394.20" y2="369.80" stroke="#000" stroke-width="1.1" stroke-linecap="butt" />
<line x1="404.20" y1="366.50" x2="404.20" y2="369.80" stroke="#000" stroke-width="1.1" stroke-linecap="butt" />
<line x1="414.20" y1="366.50" x2="414.20" y2="369.80" stroke="#000" stroke-width="1.1" stroke-linecap="butt" />
<line x1="424.20" y1="366.50" x2="424.20" y2="369.80" stroke="#000" stroke-width="1.1" stroke-linecap="butt" />
<line x1="434.20" y1="366.50" x2="434.20" y2="369.80" stroke="#000" stroke-width="1.1" stroke-linecap="butt" />
<line x1="444.20" y1="366.50" x2="444.20" y2="369.80" stroke="#000" stroke-width="1.1" stroke-linecap="butt" />
<line x1="454.20" y1="366.50" x2="454.20" y2="369.80" stroke="#000" stroke-width="1.1" stroke-linecap="butt" />
<line x1="464.20" y1="366.50" x2="464.20" y2="369.80" stroke="#000" stroke-width="1.1" stroke-linecap="butt" />
<line x1="474.20" y1="366.50" x2="474.20" y2="369.80" stroke="#000" stroke-width="1.1" stroke-linecap="butt" />
<text x="397.70" y="376.60" font-size="6.2" text-anchor="end" fill="#231f20" stroke="#231f20" stroke-width="0.1" transform="rotate(-45 397.70 376.60)" >Control</text>
<text x="407.70" y="376.60" font-size="6.2" text-anchor="end" fill="#231f20" stroke="#231f20" stroke-width="0.1" transform="rotate(-45 407.70 376.60)" >SLC 0.25</text>
<text x="417.70" y="376.60" font-size="6.2" text-anchor="end" fill="#231f20" stroke="#231f20" stroke-width="0.1" transform="rotate(-45 417.70 376.60)" >SLC 0.35</text>
<text x="427.70" y="376.60" font-size="6.2" text-anchor="end" fill="#231f20" stroke="#231f20" stroke-width="0.1" transform="rotate(-45 427.70 376.60)" >VEN 0.2</text>
<text x="437.70" y="376.60" font-size="6.2" text-anchor="end" fill="#231f20" stroke="#231f20" stroke-width="0.1" transform="rotate(-45 437.70 376.60)" >VEN 0.5</text>
<text x="447.70" y="376.60" font-size="6.45" text-anchor="end" fill="#231f20" stroke="#231f20" stroke-width="0.1" transform="rotate(-45 447.70 376.60)" >SLC+VEN 0.25+0.2</text>
<text x="457.70" y="376.60" font-size="6.45" text-anchor="end" fill="#231f20" stroke="#231f20" stroke-width="0.1" transform="rotate(-45 457.70 376.60)" >SLC+VEN 0.25+0.5</text>
<text x="467.70" y="376.60" font-size="6.45" text-anchor="end" fill="#231f20" stroke="#231f20" stroke-width="0.1" transform="rotate(-45 467.70 376.60)" >SLC+VEN 0.35+0.2</text>
<text x="477.70" y="376.60" font-size="6.45" text-anchor="end" fill="#231f20" stroke="#231f20" stroke-width="0.1" transform="rotate(-45 477.70 376.60)" >SLC+VEN 0.35+0.5</text>
<text x="481.00" y="372.60" font-size="6.3" text-anchor="start" fill="#231f20" stroke="#231f20" stroke-width="0.1" >n=4</text>
<rect x="483.80" y="303.40" width="6.00" height="2.80" fill="#1f2d5c" stroke="none" stroke-width="1" />
<text x="493.00" y="306.80" font-size="5.5" text-anchor="start" fill="#333" stroke="#333" stroke-width="0.1" >GEMM</text>
<rect x="483.80" y="311.80" width="6.00" height="2.80" fill="#c6c4cc" stroke="none" stroke-width="1" />
<text x="493.00" y="315.20" font-size="5.5" text-anchor="start" fill="#333" stroke="#333" stroke-width="0.1" >GM</text>
<rect x="483.80" y="320.60" width="6.00" height="2.80" fill="#da8d7d" stroke="none" stroke-width="1" />
<text x="493.00" y="324.00" font-size="5.5" text-anchor="start" fill="#333" stroke="#333" stroke-width="0.1" >BFU</text>
</g>
<g id="panelJ">
<text transform="translate(7.00 430.20) scale(1.1 1)" font-size="10.3" font-weight="bold" fill="#000">J</text>
<text x="36.80" y="461.00" font-size="6.3" text-anchor="start" fill="#231f20" stroke="#231f20" stroke-width="0.1" transform="rotate(-45 36.80 461.00)" >CRISPR</text>
<text x="42.80" y="467.10" font-size="6.6" text-anchor="start" fill="#231f20" stroke="#231f20" stroke-width="0.1" transform="rotate(-45 42.80 467.10)" >control</text>
<text x="67.70" y="467.00" font-size="6.3" text-anchor="start" fill="#231f20" stroke="#231f20" stroke-width="0.1" transform="rotate(-45 67.70 467.00)" >AXL-KD1</text>
<text x="92.50" y="467.00" font-size="6.3" text-anchor="start" fill="#231f20" stroke="#231f20" stroke-width="0.1" transform="rotate(-45 92.50 467.00)" >AXL-KD2</text>
<clipPath id="bcj1"><rect x="27.3" y="470.5" width="74.3" height="19.7"/></clipPath>
<g clip-path="url(#bcj1)">
<rect x="27.30" y="470.50" width="74.30" height="19.70" fill="#dedede" stroke="none" stroke-width="1" />
<rect x="27.3" y="470.5" width="74.3" height="19.7" filter="url(#nz)" opacity="0.16"/>
<rect x="28.50" y="474.00" width="72.00" height="13.00" rx="3.20" fill="#8c8c8c" opacity="0.45" filter="url(#bl3)"/>
<rect x="29.00" y="472.50" width="22.00" height="7.00" rx="3.20" fill="#555" opacity="0.5" filter="url(#bl3)"/>
<rect x="29.60" y="478.40" width="22.00" height="5.00" rx="2.50" fill="#000" opacity="1" filter="url(#bl2)"/>
<rect x="30.60" y="479.00" width="20.00" height="3.80" rx="1.90" fill="#000" opacity="1" filter="url(#bl1)"/>
<rect x="56.30" y="479.60" width="17.00" height="2.80" rx="1.40" fill="#3a3a3a" opacity="0.9" filter="url(#bl2)"/>
<rect x="80.00" y="479.60" width="18.00" height="2.80" rx="1.40" fill="#3a3a3a" opacity="0.85" filter="url(#bl2)"/>
</g>
<rect x="27.30" y="470.50" width="74.30" height="19.70" fill="none" stroke="#1a1a1a" stroke-width="0.75" rx="0.3"/>
<clipPath id="bcj2"><rect x="27.3" y="495.1" width="74.3" height="19.4"/></clipPath>
<g clip-path="url(#bcj2)">
<rect x="27.30" y="495.10" width="74.30" height="19.40" fill="#e6e6e6" stroke="none" stroke-width="1" />
<rect x="27.3" y="495.1" width="74.3" height="19.4" filter="url(#nz)" opacity="0.12"/>
<rect x="28.50" y="499.00" width="72.00" height="12.00" rx="3.20" fill="#909090" opacity="0.4" filter="url(#bl3)"/>
<rect x="31.40" y="503.00" width="24.00" height="5.00" rx="2.50" fill="#000" opacity="1" filter="url(#bl2)"/>
<rect x="57.10" y="502.70" width="21.00" height="5.20" rx="2.60" fill="#000" opacity="1" filter="url(#bl2)"/>
<rect x="79.55" y="502.50" width="19.50" height="5.00" rx="2.50" fill="#000" opacity="1" filter="url(#bl2)"/>
<rect x="33.50" y="504.00" width="21.00" height="3.40" rx="1.70" fill="#000" opacity="1" filter="url(#bl1)"/>
<rect x="58.35" y="503.50" width="18.50" height="3.60" rx="1.80" fill="#000" opacity="1" filter="url(#bl1)"/>
<rect x="80.80" y="503.30" width="17.00" height="3.40" rx="1.70" fill="#000" opacity="1" filter="url(#bl1)"/>
<rect x="31.50" y="503.00" width="4.00" height="2.60" rx="1.30" fill="#000" opacity="0.9" filter="url(#bl2)"/>
</g>
<rect x="27.30" y="495.10" width="74.30" height="19.40" fill="none" stroke="#1a1a1a" stroke-width="0.75" rx="0.3"/>
<text x="105.00" y="484.80" font-size="6.3" text-anchor="start" fill="#231f20" stroke="#231f20" stroke-width="0.1" >AXL</text>
<text x="105.00" y="508.20" font-size="6.3" text-anchor="start" fill="#231f20" stroke="#231f20" stroke-width="0.1" >ACTIN</text>
</g>
<g id="panelK">
<text transform="translate(127.00 430.10) scale(1.12 1)" font-size="10" font-weight="bold" fill="#000" font-family="DejaVu Sans,Liberation Sans,sans-serif">K</text>
<text x="228.50" y="437.00" font-size="8.7" text-anchor="middle" fill="#231f20" stroke="#231f20" stroke-width="0.1" >AML primary samples (72 h)</text>
<rect x="172.90" y="458.80" width="3.40" height="67.30" fill="#e1e1e6" stroke="none" stroke-width="1" />
<path d="M174.00,460.00 L175.00,458.20 L173.00,458.20 Z" fill="#c9c9cf" stroke="none" stroke-width="1" />
<path d="M175.20,460.00 L176.20,458.20 L174.20,458.20 Z" fill="#c9c9cf" stroke="none" stroke-width="1" />
<rect x="179.10" y="469.60" width="3.40" height="56.50" fill="#8f97c5" stroke="none" stroke-width="1" />
<line x1="180.80" y1="468.60" x2="180.80" y2="470.60" stroke="#1c3f94" stroke-width="0.8" stroke-linecap="butt" />
<line x1="179.60" y1="468.60" x2="182.00" y2="468.60" stroke="#1c3f94" stroke-width="0.8" stroke-linecap="butt" />
<line x1="179.60" y1="470.60" x2="182.00" y2="470.60" stroke="#1c3f94" stroke-width="0.8" stroke-linecap="butt" />
<circle cx="179.90" cy="469.90" r="0.80" fill="#1c3f94" stroke="none" stroke-width="1" />
<circle cx="181.10" cy="468.80" r="0.80" fill="#1c3f94" stroke="none" stroke-width="1" />
<circle cx="181.80" cy="469.60" r="0.80" fill="#1c3f94" stroke="none" stroke-width="1" />
<rect x="185.50" y="479.60" width="3.40" height="46.50" fill="#add292" stroke="none" stroke-width="1" />
<line x1="187.20" y1="476.50" x2="187.20" y2="482.50" stroke="#62b23a" stroke-width="0.8" stroke-linecap="butt" />
<line x1="186.00" y1="476.50" x2="188.40" y2="476.50" stroke="#62b23a" stroke-width="0.8" stroke-linecap="butt" />
<line x1="186.00" y1="482.50" x2="188.40" y2="482.50" stroke="#62b23a" stroke-width="0.8" stroke-linecap="butt" />
<rect x="186.45" y="475.75" width="1.50" height="1.50" fill="#62b23a" stroke="none" stroke-width="1" />
<rect x="186.45" y="478.75" width="1.50" height="1.50" fill="#62b23a" stroke="none" stroke-width="1" />
<rect x="186.45" y="481.25" width="1.50" height="1.50" fill="#62b23a" stroke="none" stroke-width="1" />
<rect x="191.80" y="479.60" width="3.40" height="46.50" fill="#dc9788" stroke="none" stroke-width="1" />
<line x1="193.50" y1="478.80" x2="193.50" y2="480.60" stroke="#c4102f" stroke-width="0.8" stroke-linecap="butt" />
<line x1="192.30" y1="478.80" x2="194.70" y2="478.80" stroke="#c4102f" stroke-width="0.8" stroke-linecap="butt" />
<line x1="192.30" y1="480.60" x2="194.70" y2="480.60" stroke="#c4102f" stroke-width="0.8" stroke-linecap="butt" />
<path d="M192.70,478.80 L193.70,480.60 L191.70,480.60 Z" fill="#c4102f" stroke="none" stroke-width="1" />
<path d="M194.00,477.50 L195.00,479.30 L193.00,479.30 Z" fill="#c4102f" stroke="none" stroke-width="1" />
<path d="M194.50,478.80 L195.50,480.60 L193.50,480.60 Z" fill="#c4102f" stroke="none" stroke-width="1" />
<rect x="202.10" y="472.70" width="3.40" height="53.40" fill="#e1e1e6" stroke="none" stroke-width="1" />
<line x1="203.80" y1="467.80" x2="203.80" y2="477.00" stroke="#c9c9cf" stroke-width="0.8" stroke-linecap="butt" />
<line x1="202.60" y1="467.80" x2="205.00" y2="467.80" stroke="#c9c9cf" stroke-width="0.8" stroke-linecap="butt" />
<line x1="202.60" y1="477.00" x2="205.00" y2="477.00" stroke="#c9c9cf" stroke-width="0.8" stroke-linecap="butt" />
<path d="M204.70,468.20 L205.70,466.40 L203.70,466.40 Z" fill="#c9c9cf" stroke="none" stroke-width="1" />
<path d="M203.80,473.50 L204.80,471.70 L202.80,471.70 Z" fill="#c9c9cf" stroke="none" stroke-width="1" />
<path d="M203.80,477.60 L204.80,475.80 L202.80,475.80 Z" fill="#c9c9cf" stroke="none" stroke-width="1" />
<rect x="208.80" y="480.40" width="3.40" height="45.70" fill="#8f97c5" stroke="none" stroke-width="1" />
<line x1="210.50" y1="475.80" x2="210.50" y2="484.80" stroke="#1c3f94" stroke-width="0.8" stroke-linecap="butt" />
<line x1="209.30" y1="475.80" x2="211.70" y2="475.80" stroke="#1c3f94" stroke-width="0.8" stroke-linecap="butt" />
<line x1="209.30" y1="484.80" x2="211.70" y2="484.80" stroke="#1c3f94" stroke-width="0.8" stroke-linecap="butt" />
<circle cx="210.50" cy="475.80" r="0.80" fill="#1c3f94" stroke="none" stroke-width="1" />
<circle cx="210.50" cy="479.00" r="0.80" fill="#1c3f94" stroke="none" stroke-width="1" />
<circle cx="210.50" cy="482.00" r="0.80" fill="#1c3f94" stroke="none" stroke-width="1" />
<circle cx="210.50" cy="484.50" r="0.80" fill="#1c3f94" stroke="none" stroke-width="1" />
<rect x="214.80" y="481.00" width="3.40" height="45.10" fill="#add292" stroke="none" stroke-width="1" />
<line x1="216.50" y1="477.50" x2="216.50" y2="485.00" stroke="#62b23a" stroke-width="0.8" stroke-linecap="butt" />
<line x1="215.30" y1="477.50" x2="217.70" y2="477.50" stroke="#62b23a" stroke-width="0.8" stroke-linecap="butt" />
<line x1="215.30" y1="485.00" x2="217.70" y2="485.00" stroke="#62b23a" stroke-width="0.8" stroke-linecap="butt" />
<rect x="215.75" y="473.05" width="1.50" height="1.50" fill="#62b23a" stroke="none" stroke-width="1" />
<rect x="215.75" y="476.75" width="1.50" height="1.50" fill="#62b23a" stroke="none" stroke-width="1" />
<rect x="215.75" y="480.25" width="1.50" height="1.50" fill="#62b23a" stroke="none" stroke-width="1" />
<rect x="215.75" y="483.25" width="1.50" height="1.50" fill="#62b23a" stroke="none" stroke-width="1" />
<rect x="221.30" y="482.70" width="3.40" height="43.40" fill="#dc9788" stroke="none" stroke-width="1" />
<line x1="223.00" y1="478.50" x2="223.00" y2="487.00" stroke="#c4102f" stroke-width="0.8" stroke-linecap="butt" />
<line x1="221.80" y1="478.50" x2="224.20" y2="478.50" stroke="#c4102f" stroke-width="0.8" stroke-linecap="butt" />
<line x1="221.80" y1="487.00" x2="224.20" y2="487.00" stroke="#c4102f" stroke-width="0.8" stroke-linecap="butt" />
<path d="M223.00,474.20 L224.00,476.00 L222.00,476.00 Z" fill="#c4102f" stroke="none" stroke-width="1" />
<path d="M223.00,477.80 L224.00,479.60 L222.00,479.60 Z" fill="#c4102f" stroke="none" stroke-width="1" />
<path d="M223.00,481.00 L224.00,482.80 L222.00,482.80 Z" fill="#c4102f" stroke="none" stroke-width="1" />
<path d="M223.00,484.00 L224.00,485.80 L222.00,485.80 Z" fill="#c4102f" stroke="none" stroke-width="1" />
<path d="M223.00,486.00 L224.00,487.80 L222.00,487.80 Z" fill="#c4102f" stroke="none" stroke-width="1" />
<rect x="231.80" y="488.10" width="3.40" height="38.00" fill="#e1e1e6" stroke="none" stroke-width="1" />
<line x1="233.50" y1="479.40" x2="233.50" y2="496.80" stroke="#c9c9cf" stroke-width="0.8" stroke-linecap="butt" />
<line x1="232.30" y1="479.40" x2="234.70" y2="479.40" stroke="#c9c9cf" stroke-width="0.8" stroke-linecap="butt" />
<line x1="232.30" y1="496.80" x2="234.70" y2="496.80" stroke="#c9c9cf" stroke-width="0.8" stroke-linecap="butt" />
<path d="M232.70,480.20 L233.70,478.40 L231.70,478.40 Z" fill="#c9c9cf" stroke="none" stroke-width="1" />
<path d="M233.50,489.00 L234.50,487.20 L232.50,487.20 Z" fill="#c9c9cf" stroke="none" stroke-width="1" />
<path d="M233.50,494.00 L234.50,492.20 L232.50,492.20 Z" fill="#c9c9cf" stroke="none" stroke-width="1" />
<path d="M233.50,501.50 L234.50,499.70 L232.50,499.70 Z" fill="#c9c9cf" stroke="none" stroke-width="1" />
<rect x="238.30" y="492.70" width="3.40" height="33.40" fill="#8f97c5" stroke="none" stroke-width="1" />
<line x1="240.00" y1="485.60" x2="240.00" y2="499.70" stroke="#1c3f94" stroke-width="0.8" stroke-linecap="butt" />
<line x1="238.80" y1="485.60" x2="241.20" y2="485.60" stroke="#1c3f94" stroke-width="0.8" stroke-linecap="butt" />
<line x1="238.80" y1="499.70" x2="241.20" y2="499.70" stroke="#1c3f94" stroke-width="0.8" stroke-linecap="butt" />
<circle cx="240.00" cy="479.70" r="0.80" fill="#1c3f94" stroke="none" stroke-width="1" />
<circle cx="240.00" cy="486.00" r="0.80" fill="#1c3f94" stroke="none" stroke-width="1" />
<circle cx="240.00" cy="491.00" r="0.80" fill="#1c3f94" stroke="none" stroke-width="1" />
<circle cx="240.00" cy="494.50" r="0.80" fill="#1c3f94" stroke="none" stroke-width="1" />
<circle cx="240.00" cy="498.00" r="0.80" fill="#1c3f94" stroke="none" stroke-width="1" />
<rect x="244.50" y="500.00" width="3.40" height="26.10" fill="#add292" stroke="none" stroke-width="1" />
<line x1="246.20" y1="493.00" x2="246.20" y2="505.60" stroke="#62b23a" stroke-width="0.8" stroke-linecap="butt" />
<line x1="245.00" y1="493.00" x2="247.40" y2="493.00" stroke="#62b23a" stroke-width="0.8" stroke-linecap="butt" />
<line x1="245.00" y1="505.60" x2="247.40" y2="505.60" stroke="#62b23a" stroke-width="0.8" stroke-linecap="butt" />
<rect x="245.45" y="486.45" width="1.50" height="1.50" fill="#62b23a" stroke="none" stroke-width="1" />
<rect x="245.45" y="492.45" width="1.50" height="1.50" fill="#62b23a" stroke="none" stroke-width="1" />
<rect x="245.45" y="498.75" width="1.50" height="1.50" fill="#62b23a" stroke="none" stroke-width="1" />
<rect x="245.45" y="503.25" width="1.50" height="1.50" fill="#62b23a" stroke="none" stroke-width="1" />
<rect x="251.00" y="499.80" width="3.40" height="26.30" fill="#dc9788" stroke="none" stroke-width="1" />
<line x1="252.70" y1="493.00" x2="252.70" y2="504.40" stroke="#c4102f" stroke-width="0.8" stroke-linecap="butt" />
<line x1="251.50" y1="493.00" x2="253.90" y2="493.00" stroke="#c4102f" stroke-width="0.8" stroke-linecap="butt" />
<line x1="251.50" y1="504.40" x2="253.90" y2="504.40" stroke="#c4102f" stroke-width="0.8" stroke-linecap="butt" />
<path d="M252.70,487.50 L253.70,489.30 L251.70,489.30 Z" fill="#c4102f" stroke="none" stroke-width="1" />
<path d="M252.70,492.50 L253.70,494.30 L251.70,494.30 Z" fill="#c4102f" stroke="none" stroke-width="1" />
<path d="M252.70,498.00 L253.70,499.80 L251.70,499.80 Z" fill="#c4102f" stroke="none" stroke-width="1" />
<path d="M253.70,501.50 L254.70,503.30 L252.70,503.30 Z" fill="#c4102f" stroke="none" stroke-width="1" />
<path d="M251.90,503.00 L252.90,504.80 L250.90,504.80 Z" fill="#c4102f" stroke="none" stroke-width="1" />
<rect x="261.40" y="503.10" width="3.40" height="23.00" fill="#e1e1e6" stroke="none" stroke-width="1" />
<line x1="263.10" y1="495.60" x2="263.10" y2="510.80" stroke="#c9c9cf" stroke-width="0.8" stroke-linecap="butt" />
<line x1="261.90" y1="495.60" x2="264.30" y2="495.60" stroke="#c9c9cf" stroke-width="0.8" stroke-linecap="butt" />
<line x1="261.90" y1="510.80" x2="264.30" y2="510.80" stroke="#c9c9cf" stroke-width="0.8" stroke-linecap="butt" />
<path d="M263.10,496.60 L264.10,494.80 L262.10,494.80 Z" fill="#c9c9cf" stroke="none" stroke-width="1" />
<path d="M263.10,501.00 L264.10,499.20 L262.10,499.20 Z" fill="#c9c9cf" stroke="none" stroke-width="1" />
<path d="M263.10,506.00 L264.10,504.20 L262.10,504.20 Z" fill="#c9c9cf" stroke="none" stroke-width="1" />
<path d="M263.10,511.00 L264.10,509.20 L262.10,509.20 Z" fill="#c9c9cf" stroke="none" stroke-width="1" />
<rect x="267.70" y="505.20" width="3.40" height="20.90" fill="#8f97c5" stroke="none" stroke-width="1" />
<line x1="269.40" y1="499.40" x2="269.40" y2="513.00" stroke="#1c3f94" stroke-width="0.8" stroke-linecap="butt" />
<line x1="268.20" y1="499.40" x2="270.60" y2="499.40" stroke="#1c3f94" stroke-width="0.8" stroke-linecap="butt" />
<line x1="268.20" y1="513.00" x2="270.60" y2="513.00" stroke="#1c3f94" stroke-width="0.8" stroke-linecap="butt" />
<circle cx="269.40" cy="496.50" r="0.80" fill="#1c3f94" stroke="none" stroke-width="1" />
<circle cx="269.40" cy="501.00" r="0.80" fill="#1c3f94" stroke="none" stroke-width="1" />
<circle cx="269.40" cy="506.00" r="0.80" fill="#1c3f94" stroke="none" stroke-width="1" />
<circle cx="269.40" cy="510.00" r="0.80" fill="#1c3f94" stroke="none" stroke-width="1" />
<circle cx="269.40" cy="513.00" r="0.80" fill="#1c3f94" stroke="none" stroke-width="1" />
<rect x="273.90" y="507.20" width="3.40" height="18.90" fill="#add292" stroke="none" stroke-width="1" />
<line x1="275.60" y1="499.80" x2="275.60" y2="513.80" stroke="#62b23a" stroke-width="0.8" stroke-linecap="butt" />
<line x1="274.40" y1="499.80" x2="276.80" y2="499.80" stroke="#62b23a" stroke-width="0.8" stroke-linecap="butt" />
<line x1="274.40" y1="513.80" x2="276.80" y2="513.80" stroke="#62b23a" stroke-width="0.8" stroke-linecap="butt" />
<rect x="274.85" y="499.25" width="1.50" height="1.50" fill="#62b23a" stroke="none" stroke-width="1" />
<rect x="274.85" y="504.25" width="1.50" height="1.50" fill="#62b23a" stroke="none" stroke-width="1" />
<rect x="274.85" y="509.25" width="1.50" height="1.50" fill="#62b23a" stroke="none" stroke-width="1" />
<rect x="274.85" y="513.25" width="1.50" height="1.50" fill="#62b23a" stroke="none" stroke-width="1" />
<rect x="280.20" y="510.60" width="3.40" height="15.50" fill="#dc9788" stroke="none" stroke-width="1" />
<line x1="281.90" y1="505.60" x2="281.90" y2="512.00" stroke="#c4102f" stroke-width="0.8" stroke-linecap="butt" />
<line x1="280.70" y1="505.60" x2="283.10" y2="505.60" stroke="#c4102f" stroke-width="0.8" stroke-linecap="butt" />
<line x1="280.70" y1="512.00" x2="283.10" y2="512.00" stroke="#c4102f" stroke-width="0.8" stroke-linecap="butt" />
<path d="M281.90,501.80 L282.90,503.60 L280.90,503.60 Z" fill="#c4102f" stroke="none" stroke-width="1" />
<path d="M281.90,505.50 L282.90,507.30 L280.90,507.30 Z" fill="#c4102f" stroke="none" stroke-width="1" />
<path d="M281.30,509.50 L282.30,511.30 L280.30,511.30 Z" fill="#c4102f" stroke="none" stroke-width="1" />
<path d="M282.70,509.50 L283.70,511.30 L281.70,511.30 Z" fill="#c4102f" stroke="none" stroke-width="1" />
<line x1="170.10" y1="442.90" x2="170.10" y2="526.80" stroke="#000" stroke-width="1.4" stroke-linecap="butt" />
<line x1="169.40" y1="526.10" x2="287.00" y2="526.10" stroke="#000" stroke-width="1.4" stroke-linecap="butt" />
<line x1="167.20" y1="445.10" x2="170.10" y2="445.10" stroke="#000" stroke-width="1.1" stroke-linecap="butt" />
<text x="164.40" y="447.77" font-size="6.3" text-anchor="end" fill="#231f20" stroke="#231f20" stroke-width="0.1" >120</text>
<line x1="167.20" y1="458.60" x2="170.10" y2="458.60" stroke="#000" stroke-width="1.1" stroke-linecap="butt" />
<text x="164.40" y="461.27" font-size="6.3" text-anchor="end" fill="#231f20" stroke="#231f20" stroke-width="0.1" >100</text>
<line x1="167.20" y1="472.10" x2="170.10" y2="472.10" stroke="#000" stroke-width="1.1" stroke-linecap="butt" />
<text x="164.40" y="474.77" font-size="6.3" text-anchor="end" fill="#231f20" stroke="#231f20" stroke-width="0.1" >80</text>
<line x1="167.20" y1="485.60" x2="170.10" y2="485.60" stroke="#000" stroke-width="1.1" stroke-linecap="butt" />
<text x="164.40" y="488.27" font-size="6.3" text-anchor="end" fill="#231f20" stroke="#231f20" stroke-width="0.1" >60</text>
<line x1="167.20" y1="499.10" x2="170.10" y2="499.10" stroke="#000" stroke-width="1.1" stroke-linecap="butt" />
<text x="164.40" y="501.77" font-size="6.3" text-anchor="end" fill="#231f20" stroke="#231f20" stroke-width="0.1" >40</text>
<line x1="167.20" y1="512.60" x2="170.10" y2="512.60" stroke="#000" stroke-width="1.1" stroke-linecap="butt" />
<text x="164.40" y="515.27" font-size="6.3" text-anchor="end" fill="#231f20" stroke="#231f20" stroke-width="0.1" >20</text>
<line x1="167.20" y1="526.10" x2="170.10" y2="526.10" stroke="#000" stroke-width="1.1" stroke-linecap="butt" />
<text x="164.40" y="528.77" font-size="6.3" text-anchor="end" fill="#231f20" stroke="#231f20" stroke-width="0.1" >0</text>
<line x1="183.50" y1="526.10" x2="183.50" y2="529.00" stroke="#000" stroke-width="1.1" stroke-linecap="butt" />
<text x="183.50" y="537.60" font-size="6.74" text-anchor="middle" fill="#231f20" stroke="#231f20" stroke-width="0.1" >Control</text>
<line x1="213.00" y1="526.10" x2="213.00" y2="529.00" stroke="#000" stroke-width="1.1" stroke-linecap="butt" />
<text x="213.00" y="537.60" font-size="6.55" text-anchor="middle" fill="#231f20" stroke="#231f20" stroke-width="0.1" >SLC</text>
<line x1="242.80" y1="526.10" x2="242.80" y2="529.00" stroke="#000" stroke-width="1.1" stroke-linecap="butt" />
<text x="242.80" y="537.60" font-size="6.55" text-anchor="middle" fill="#231f20" stroke="#231f20" stroke-width="0.1" >VEN</text>
<line x1="272.30" y1="526.10" x2="272.30" y2="529.00" stroke="#000" stroke-width="1.1" stroke-linecap="butt" />
<text x="272.30" y="537.60" font-size="6.3" text-anchor="middle" fill="#231f20" stroke="#231f20" stroke-width="0.1" >SLC+VEN</text>
<path d="M180.80,456.50 L180.80,454.60 Q180.80,453.90 181.50,453.90 L192.80,453.90 Q193.50,453.90 193.50,454.60 L193.50,456.50" fill="none" stroke="#111" stroke-width="1.15" />
<text x="188.00" y="451.50" font-size="5.3" text-anchor="middle" fill="#4a4a4a" >P=0.004</text>
<path d="M180.80,465.90 L180.80,464.00 Q180.80,463.30 181.50,463.30 L186.90,463.30 Q187.60,463.30 187.60,464.00 L187.60,465.90" fill="none" stroke="#111" stroke-width="1.15" />
<text x="188.00" y="462.20" font-size="5.3" text-anchor="middle" fill="#4a4a4a" >P=0.046</text>
<path d="M239.80,468.10 L239.80,466.20 Q239.80,465.50 240.50,465.50 L251.90,465.50 Q252.60,465.50 252.60,466.20 L252.60,468.10" fill="none" stroke="#111" stroke-width="1.15" />
<text x="245.30" y="464.10" font-size="5.3" text-anchor="middle" fill="#4a4a4a" >P=0.026</text>
<path d="M239.80,477.50 L239.80,475.60 Q239.80,474.90 240.50,474.90 L246.10,474.90 Q246.80,474.90 246.80,475.60 L246.80,477.50" fill="none" stroke="#111" stroke-width="1.15" />
<text x="245.30" y="473.80" font-size="5.3" text-anchor="middle" fill="#4a4a4a" >P=0.006</text>
</g>
<g id="panelL">
<text transform="translate(299.50 430.10) scale(1.12 1)" font-size="10" font-weight="bold" fill="#000" font-family="DejaVu Sans,Liberation Sans,sans-serif">L</text>
<text x="400.00" y="437.00" font-size="8.7" text-anchor="middle" fill="#231f20" stroke="#231f20" stroke-width="0.1" >Total CFC</text>
<rect x="341.90" y="458.50" width="3.40" height="67.60" fill="#e1e1e6" stroke="none" stroke-width="1" />
<rect x="348.30" y="468.80" width="3.40" height="57.30" fill="#8f97c5" stroke="none" stroke-width="1" />
<line x1="350.00" y1="461.50" x2="350.00" y2="475.50" stroke="#1c3f94" stroke-width="0.8" stroke-linecap="butt" />
<line x1="348.80" y1="461.50" x2="351.20" y2="461.50" stroke="#1c3f94" stroke-width="0.8" stroke-linecap="butt" />
<line x1="348.80" y1="475.50" x2="351.20" y2="475.50" stroke="#1c3f94" stroke-width="0.8" stroke-linecap="butt" />
<circle cx="350.00" cy="461.50" r="0.80" fill="#1c3f94" stroke="none" stroke-width="1" />
<circle cx="350.00" cy="465.00" r="0.80" fill="#1c3f94" stroke="none" stroke-width="1" />
<circle cx="350.00" cy="468.00" r="0.80" fill="#1c3f94" stroke="none" stroke-width="1" />
<circle cx="350.00" cy="472.50" r="0.80" fill="#1c3f94" stroke="none" stroke-width="1" />
<rect x="354.50" y="478.00" width="3.40" height="48.10" fill="#add292" stroke="none" stroke-width="1" />
<line x1="356.20" y1="473.00" x2="356.20" y2="483.50" stroke="#62b23a" stroke-width="0.8" stroke-linecap="butt" />
<line x1="355.00" y1="473.00" x2="357.40" y2="473.00" stroke="#62b23a" stroke-width="0.8" stroke-linecap="butt" />
<line x1="355.00" y1="483.50" x2="357.40" y2="483.50" stroke="#62b23a" stroke-width="0.8" stroke-linecap="butt" />
<rect x="355.45" y="472.45" width="1.50" height="1.50" fill="#62b23a" stroke="none" stroke-width="1" />
<rect x="355.45" y="476.75" width="1.50" height="1.50" fill="#62b23a" stroke="none" stroke-width="1" />
<rect x="355.45" y="480.75" width="1.50" height="1.50" fill="#62b23a" stroke="none" stroke-width="1" />
<rect x="360.60" y="485.80" width="3.40" height="40.30" fill="#dc9788" stroke="none" stroke-width="1" />
<line x1="362.30" y1="479.40" x2="362.30" y2="488.50" stroke="#c4102f" stroke-width="0.8" stroke-linecap="butt" />
<line x1="361.10" y1="479.40" x2="363.50" y2="479.40" stroke="#c4102f" stroke-width="0.8" stroke-linecap="butt" />
<line x1="361.10" y1="488.50" x2="363.50" y2="488.50" stroke="#c4102f" stroke-width="0.8" stroke-linecap="butt" />
<path d="M362.30,478.60 L363.30,480.40 L361.30,480.40 Z" fill="#c4102f" stroke="none" stroke-width="1" />
<path d="M362.30,484.50 L363.30,486.30 L361.30,486.30 Z" fill="#c4102f" stroke="none" stroke-width="1" />
<path d="M362.30,486.50 L363.30,488.30 L361.30,488.30 Z" fill="#c4102f" stroke="none" stroke-width="1" />
<rect x="370.60" y="478.80" width="3.40" height="47.30" fill="#e1e1e6" stroke="none" stroke-width="1" />
<line x1="372.30" y1="461.00" x2="372.30" y2="497.50" stroke="#c9c9cf" stroke-width="0.8" stroke-linecap="butt" />
<line x1="371.10" y1="461.00" x2="373.50" y2="461.00" stroke="#c9c9cf" stroke-width="0.8" stroke-linecap="butt" />
<line x1="371.10" y1="497.50" x2="373.50" y2="497.50" stroke="#c9c9cf" stroke-width="0.8" stroke-linecap="butt" />
<path d="M373.10,469.80 L374.10,468.00 L372.10,468.00 Z" fill="#c9c9cf" stroke="none" stroke-width="1" />
<path d="M372.30,481.00 L373.30,479.20 L371.30,479.20 Z" fill="#c9c9cf" stroke="none" stroke-width="1" />
<path d="M372.30,498.00 L373.30,496.20 L371.30,496.20 Z" fill="#c9c9cf" stroke="none" stroke-width="1" />
<rect x="376.80" y="485.80" width="3.40" height="40.30" fill="#8f97c5" stroke="none" stroke-width="1" />
<line x1="378.50" y1="477.30" x2="378.50" y2="489.00" stroke="#1c3f94" stroke-width="0.8" stroke-linecap="butt" />
<line x1="377.30" y1="477.30" x2="379.70" y2="477.30" stroke="#1c3f94" stroke-width="0.8" stroke-linecap="butt" />
<line x1="377.30" y1="489.00" x2="379.70" y2="489.00" stroke="#1c3f94" stroke-width="0.8" stroke-linecap="butt" />
<circle cx="378.50" cy="477.30" r="0.80" fill="#1c3f94" stroke="none" stroke-width="1" />
<circle cx="377.60" cy="485.50" r="0.80" fill="#1c3f94" stroke="none" stroke-width="1" />
<circle cx="379.40" cy="485.50" r="0.80" fill="#1c3f94" stroke="none" stroke-width="1" />
<circle cx="378.50" cy="488.00" r="0.80" fill="#1c3f94" stroke="none" stroke-width="1" />
<rect x="383.30" y="485.80" width="3.40" height="40.30" fill="#add292" stroke="none" stroke-width="1" />
<line x1="385.00" y1="478.50" x2="385.00" y2="489.00" stroke="#62b23a" stroke-width="0.8" stroke-linecap="butt" />
<line x1="383.80" y1="478.50" x2="386.20" y2="478.50" stroke="#62b23a" stroke-width="0.8" stroke-linecap="butt" />
<line x1="383.80" y1="489.00" x2="386.20" y2="489.00" stroke="#62b23a" stroke-width="0.8" stroke-linecap="butt" />
<rect x="384.25" y="477.75" width="1.50" height="1.50" fill="#62b23a" stroke="none" stroke-width="1" />
<rect x="383.35" y="485.05" width="1.50" height="1.50" fill="#62b23a" stroke="none" stroke-width="1" />
<rect x="385.15" y="485.05" width="1.50" height="1.50" fill="#62b23a" stroke="none" stroke-width="1" />
<rect x="384.25" y="487.25" width="1.50" height="1.50" fill="#62b23a" stroke="none" stroke-width="1" />
<rect x="388.90" y="490.40" width="3.40" height="35.70" fill="#dc9788" stroke="none" stroke-width="1" />
<line x1="390.60" y1="485.80" x2="390.60" y2="493.50" stroke="#c4102f" stroke-width="0.8" stroke-linecap="butt" />
<line x1="389.40" y1="485.80" x2="391.80" y2="485.80" stroke="#c4102f" stroke-width="0.8" stroke-linecap="butt" />
<line x1="389.40" y1="493.50" x2="391.80" y2="493.50" stroke="#c4102f" stroke-width="0.8" stroke-linecap="butt" />
<path d="M390.60,484.80 L391.60,486.60 L389.60,486.60 Z" fill="#c4102f" stroke="none" stroke-width="1" />
<path d="M390.60,488.00 L391.60,489.80 L389.60,489.80 Z" fill="#c4102f" stroke="none" stroke-width="1" />
<path d="M390.60,490.00 L391.60,491.80 L389.60,491.80 Z" fill="#c4102f" stroke="none" stroke-width="1" />
<rect x="399.10" y="505.80" width="3.40" height="20.30" fill="#e1e1e6" stroke="none" stroke-width="1" />
<line x1="400.80" y1="488.00" x2="400.80" y2="520.00" stroke="#c9c9cf" stroke-width="0.8" stroke-linecap="butt" />
<line x1="399.60" y1="488.00" x2="402.00" y2="488.00" stroke="#c9c9cf" stroke-width="0.8" stroke-linecap="butt" />
<line x1="399.60" y1="520.00" x2="402.00" y2="520.00" stroke="#c9c9cf" stroke-width="0.8" stroke-linecap="butt" />
<path d="M400.80,490.00 L401.80,488.20 L399.80,488.20 Z" fill="#c9c9cf" stroke="none" stroke-width="1" />
<path d="M400.80,507.00 L401.80,505.20 L399.80,505.20 Z" fill="#c9c9cf" stroke="none" stroke-width="1" />
<path d="M400.80,513.00 L401.80,511.20 L399.80,511.20 Z" fill="#c9c9cf" stroke="none" stroke-width="1" />
<path d="M400.80,518.00 L401.80,516.20 L399.80,516.20 Z" fill="#c9c9cf" stroke="none" stroke-width="1" />
<rect x="405.30" y="502.00" width="3.40" height="24.10" fill="#8f97c5" stroke="none" stroke-width="1" />
<line x1="407.00" y1="490.40" x2="407.00" y2="514.50" stroke="#1c3f94" stroke-width="0.8" stroke-linecap="butt" />
<line x1="405.80" y1="490.40" x2="408.20" y2="490.40" stroke="#1c3f94" stroke-width="0.8" stroke-linecap="butt" />
<line x1="405.80" y1="514.50" x2="408.20" y2="514.50" stroke="#1c3f94" stroke-width="0.8" stroke-linecap="butt" />
<circle cx="407.00" cy="490.40" r="0.80" fill="#1c3f94" stroke="none" stroke-width="1" />
<circle cx="407.00" cy="494.00" r="0.80" fill="#1c3f94" stroke="none" stroke-width="1" />
<circle cx="407.00" cy="497.50" r="0.80" fill="#1c3f94" stroke="none" stroke-width="1" />
<circle cx="407.00" cy="502.00" r="0.80" fill="#1c3f94" stroke="none" stroke-width="1" />
<circle cx="407.00" cy="508.00" r="0.80" fill="#1c3f94" stroke="none" stroke-width="1" />
<circle cx="407.00" cy="514.00" r="0.80" fill="#1c3f94" stroke="none" stroke-width="1" />
<rect x="411.50" y="512.70" width="3.40" height="13.40" fill="#add292" stroke="none" stroke-width="1" />
<line x1="413.20" y1="505.80" x2="413.20" y2="519.00" stroke="#62b23a" stroke-width="0.8" stroke-linecap="butt" />
<line x1="412.00" y1="505.80" x2="414.40" y2="505.80" stroke="#62b23a" stroke-width="0.8" stroke-linecap="butt" />
<line x1="412.00" y1="519.00" x2="414.40" y2="519.00" stroke="#62b23a" stroke-width="0.8" stroke-linecap="butt" />
<rect x="412.45" y="505.05" width="1.50" height="1.50" fill="#62b23a" stroke="none" stroke-width="1" />
<rect x="412.45" y="511.75" width="1.50" height="1.50" fill="#62b23a" stroke="none" stroke-width="1" />
<rect x="412.45" y="517.75" width="1.50" height="1.50" fill="#62b23a" stroke="none" stroke-width="1" />
<rect x="417.80" y="514.20" width="3.40" height="11.90" fill="#dc9788" stroke="none" stroke-width="1" />
<line x1="419.50" y1="508.50" x2="419.50" y2="518.00" stroke="#c4102f" stroke-width="0.8" stroke-linecap="butt" />
<line x1="418.30" y1="508.50" x2="420.70" y2="508.50" stroke="#c4102f" stroke-width="0.8" stroke-linecap="butt" />
<line x1="418.30" y1="518.00" x2="420.70" y2="518.00" stroke="#c4102f" stroke-width="0.8" stroke-linecap="butt" />
<path d="M419.50,507.50 L420.50,509.30 L418.50,509.30 Z" fill="#c4102f" stroke="none" stroke-width="1" />
<path d="M419.50,513.00 L420.50,514.80 L418.50,514.80 Z" fill="#c4102f" stroke="none" stroke-width="1" />
<path d="M419.50,516.50 L420.50,518.30 L418.50,518.30 Z" fill="#c4102f" stroke="none" stroke-width="1" />
<rect x="427.50" y="513.50" width="3.40" height="12.60" fill="#e1e1e6" stroke="none" stroke-width="1" />
<line x1="429.20" y1="501.00" x2="429.20" y2="523.00" stroke="#c9c9cf" stroke-width="0.8" stroke-linecap="butt" />
<line x1="428.00" y1="501.00" x2="430.40" y2="501.00" stroke="#c9c9cf" stroke-width="0.8" stroke-linecap="butt" />
<line x1="428.00" y1="523.00" x2="430.40" y2="523.00" stroke="#c9c9cf" stroke-width="0.8" stroke-linecap="butt" />
<path d="M429.20,502.50 L430.20,500.70 L428.20,500.70 Z" fill="#c9c9cf" stroke="none" stroke-width="1" />
<path d="M429.20,515.00 L430.20,513.20 L428.20,513.20 Z" fill="#c9c9cf" stroke="none" stroke-width="1" />
<path d="M429.20,522.00 L430.20,520.20 L428.20,520.20 Z" fill="#c9c9cf" stroke="none" stroke-width="1" />
<rect x="433.90" y="515.00" width="3.40" height="11.10" fill="#8f97c5" stroke="none" stroke-width="1" />
<line x1="435.60" y1="509.60" x2="435.60" y2="519.50" stroke="#1c3f94" stroke-width="0.8" stroke-linecap="butt" />
<line x1="434.40" y1="509.60" x2="436.80" y2="509.60" stroke="#1c3f94" stroke-width="0.8" stroke-linecap="butt" />
<line x1="434.40" y1="519.50" x2="436.80" y2="519.50" stroke="#1c3f94" stroke-width="0.8" stroke-linecap="butt" />
<circle cx="435.60" cy="509.60" r="0.80" fill="#1c3f94" stroke="none" stroke-width="1" />
<circle cx="435.60" cy="515.00" r="0.80" fill="#1c3f94" stroke="none" stroke-width="1" />
<circle cx="435.60" cy="519.00" r="0.80" fill="#1c3f94" stroke="none" stroke-width="1" />
<rect x="439.90" y="518.00" width="3.40" height="8.10" fill="#add292" stroke="none" stroke-width="1" />
<line x1="441.60" y1="514.00" x2="441.60" y2="521.50" stroke="#62b23a" stroke-width="0.8" stroke-linecap="butt" />
<line x1="440.40" y1="514.00" x2="442.80" y2="514.00" stroke="#62b23a" stroke-width="0.8" stroke-linecap="butt" />
<line x1="440.40" y1="521.50" x2="442.80" y2="521.50" stroke="#62b23a" stroke-width="0.8" stroke-linecap="butt" />
<rect x="440.85" y="513.25" width="1.50" height="1.50" fill="#62b23a" stroke="none" stroke-width="1" />
<rect x="440.85" y="517.25" width="1.50" height="1.50" fill="#62b23a" stroke="none" stroke-width="1" />
<rect x="440.85" y="520.25" width="1.50" height="1.50" fill="#62b23a" stroke="none" stroke-width="1" />
<rect x="446.00" y="518.80" width="3.40" height="7.30" fill="#dc9788" stroke="none" stroke-width="1" />
<line x1="447.70" y1="515.00" x2="447.70" y2="520.50" stroke="#c4102f" stroke-width="0.8" stroke-linecap="butt" />
<line x1="446.50" y1="515.00" x2="448.90" y2="515.00" stroke="#c4102f" stroke-width="0.8" stroke-linecap="butt" />
<line x1="446.50" y1="520.50" x2="448.90" y2="520.50" stroke="#c4102f" stroke-width="0.8" stroke-linecap="butt" />
<path d="M447.70,514.00 L448.70,515.80 L446.70,515.80 Z" fill="#c4102f" stroke="none" stroke-width="1" />
<path d="M446.90,517.60 L447.90,519.40 L445.90,519.40 Z" fill="#c4102f" stroke="none" stroke-width="1" />
<path d="M448.50,517.60 L449.50,519.40 L447.50,519.40 Z" fill="#c4102f" stroke="none" stroke-width="1" />
<line x1="339.80" y1="442.90" x2="339.80" y2="526.80" stroke="#000" stroke-width="1.4" stroke-linecap="butt" />
<line x1="339.10" y1="526.10" x2="452.30" y2="526.10" stroke="#000" stroke-width="1.4" stroke-linecap="butt" />
<line x1="336.90" y1="445.10" x2="339.80" y2="445.10" stroke="#000" stroke-width="1.1" stroke-linecap="butt" />
<text x="334.10" y="447.77" font-size="6.3" text-anchor="end" fill="#231f20" stroke="#231f20" stroke-width="0.1" >120</text>
<line x1="336.90" y1="458.60" x2="339.80" y2="458.60" stroke="#000" stroke-width="1.1" stroke-linecap="butt" />
<text x="334.10" y="461.27" font-size="6.3" text-anchor="end" fill="#231f20" stroke="#231f20" stroke-width="0.1" >100</text>
<line x1="336.90" y1="472.10" x2="339.80" y2="472.10" stroke="#000" stroke-width="1.1" stroke-linecap="butt" />
<text x="334.10" y="474.77" font-size="6.3" text-anchor="end" fill="#231f20" stroke="#231f20" stroke-width="0.1" >80</text>
<line x1="336.90" y1="485.60" x2="339.80" y2="485.60" stroke="#000" stroke-width="1.1" stroke-linecap="butt" />
<text x="334.10" y="488.27" font-size="6.3" text-anchor="end" fill="#231f20" stroke="#231f20" stroke-width="0.1" >60</text>
<line x1="336.90" y1="499.10" x2="339.80" y2="499.10" stroke="#000" stroke-width="1.1" stroke-linecap="butt" />
<text x="334.10" y="501.77" font-size="6.3" text-anchor="end" fill="#231f20" stroke="#231f20" stroke-width="0.1" >40</text>
<line x1="336.90" y1="512.60" x2="339.80" y2="512.60" stroke="#000" stroke-width="1.1" stroke-linecap="butt" />
<text x="334.10" y="515.27" font-size="6.3" text-anchor="end" fill="#231f20" stroke="#231f20" stroke-width="0.1" >20</text>
<line x1="336.90" y1="526.10" x2="339.80" y2="526.10" stroke="#000" stroke-width="1.1" stroke-linecap="butt" />
<text x="334.10" y="528.77" font-size="6.3" text-anchor="end" fill="#231f20" stroke="#231f20" stroke-width="0.1" >0</text>
<line x1="353.00" y1="526.10" x2="353.00" y2="529.00" stroke="#000" stroke-width="1.1" stroke-linecap="butt" />
<text x="353.00" y="537.60" font-size="6.74" text-anchor="middle" fill="#231f20" stroke="#231f20" stroke-width="0.1" >Control</text>
<line x1="381.40" y1="526.10" x2="381.40" y2="529.00" stroke="#000" stroke-width="1.1" stroke-linecap="butt" />
<text x="381.40" y="537.60" font-size="6.55" text-anchor="middle" fill="#231f20" stroke="#231f20" stroke-width="0.1" >SLC</text>
<line x1="410.00" y1="526.10" x2="410.00" y2="529.00" stroke="#000" stroke-width="1.1" stroke-linecap="butt" />
<text x="410.00" y="537.60" font-size="6.55" text-anchor="middle" fill="#231f20" stroke="#231f20" stroke-width="0.1" >VEN</text>
<line x1="438.50" y1="526.10" x2="438.50" y2="529.00" stroke="#000" stroke-width="1.1" stroke-linecap="butt" />
<text x="438.50" y="537.60" font-size="6.3" text-anchor="middle" fill="#231f20" stroke="#231f20" stroke-width="0.1" >SLC+VEN</text>
<text x="452.60" y="531.20" font-size="6.3" text-anchor="start" fill="#231f20" stroke="#231f20" stroke-width="0.1" >n=3</text>
<path d="M350.00,451.80 L350.00,449.90 Q350.00,449.20 350.70,449.20 L361.80,449.20 Q362.50,449.20 362.50,449.90 L362.50,451.80" fill="none" stroke="#111" stroke-width="1.15" />
<text x="357.20" y="447.20" font-size="5.3" text-anchor="middle" fill="#4a4a4a" >P=0.034</text>
<path d="M350.00,461.40 L350.00,459.50 Q350.00,458.80 350.70,458.80 L356.10,458.80 Q356.80,458.80 356.80,459.50 L356.80,461.40" fill="none" stroke="#111" stroke-width="1.15" />
<text x="347.20" y="456.80" font-size="5.3" text-anchor="start" fill="#4a4a4a" >P=0.06</text>
<path d="M407.00,481.40 L407.00,479.50 Q407.00,478.80 407.70,478.80 L418.70,478.80 Q419.40,478.80 419.40,479.50 L419.40,481.40" fill="none" stroke="#111" stroke-width="1.15" />
<text x="413.40" y="477.00" font-size="5.3" text-anchor="middle" fill="#4a4a4a" >P=0.13</text>
<path d="M407.00,490.40 L407.00,488.50 Q407.00,487.80 407.70,487.80 L412.90,487.80 Q413.60,487.80 413.60,488.50 L413.60,490.40" fill="none" stroke="#111" stroke-width="1.15" />
<text x="405.00" y="486.00" font-size="5.3" text-anchor="start" fill="#4a4a4a" >P=0.1</text>
<path d="M456.20,445.50 L457.10,443.88 L455.30,443.88 Z" fill="#c9c9cf" stroke="none" stroke-width="1" />
<text x="460.20" y="446.50" font-size="5.2" text-anchor="start" fill="#333" stroke="#333" stroke-width="0.1" >Untreated</text>
<circle cx="456.20" cy="453.50" r="0.80" fill="#1c3f94" stroke="none" stroke-width="1" />
<text x="460.20" y="455.40" font-size="5.2" text-anchor="start" fill="#333" stroke="#333" stroke-width="0.1" >CRISPR Control</text>
<rect x="455.50" y="461.70" width="1.40" height="1.40" fill="#62b23a" stroke="none" stroke-width="1" />
<text x="460.20" y="464.30" font-size="5.2" text-anchor="start" fill="#333" stroke="#333" stroke-width="0.1" >AXL-KD1</text>
<path d="M456.20,470.20 L457.10,471.82 L455.30,471.82 Z" fill="#c4102f" stroke="none" stroke-width="1" />
<text x="460.20" y="473.00" font-size="5.2" text-anchor="start" fill="#333" stroke="#333" stroke-width="0.1" >AXL-KD2</text>
</g>
<g id="panelM">
<text transform="translate(6.60 551.70) scale(1.12 1)" font-size="10" font-weight="bold" fill="#000" font-family="DejaVu Sans,Liberation Sans,sans-serif">M</text>
<text x="61.60" y="573.30" font-size="6.2" text-anchor="middle" fill="#231f20" stroke="#231f20" stroke-width="0.1" >THP-1</text>
<line x1="27.40" y1="578.40" x2="96.20" y2="578.40" stroke="#000" stroke-width="1.0" stroke-linecap="butt" />
<text x="44.20" y="603.40" font-size="6.0" text-anchor="start" fill="#231f20" stroke="#231f20" stroke-width="0.1" transform="rotate(-45 44.20 603.40)" >Control</text>
<text x="65.30" y="603.60" font-size="6.0" text-anchor="start" fill="#231f20" stroke="#231f20" stroke-width="0.1" transform="rotate(-45 65.30 603.60)" >AXL-KD1</text>
<text x="87.10" y="603.60" font-size="6.0" text-anchor="start" fill="#231f20" stroke="#231f20" stroke-width="0.1" transform="rotate(-45 87.10 603.60)" >AXL-KD2</text>
<clipPath id="bcm1"><rect x="27.3" y="607.3" width="69.0" height="19.4"/></clipPath>
<g clip-path="url(#bcm1)">
<rect x="27.30" y="607.30" width="69.00" height="19.40" fill="#f3f3f3" stroke="none" stroke-width="1" />
<rect x="27.3" y="607.3" width="69.0" height="19.4" filter="url(#nz)" opacity="0.04"/>
<rect x="27.00" y="623.00" width="70.00" height="4.00" rx="2.00" fill="#aaa" opacity="0.25" filter="url(#bl3)"/>
<rect x="35.10" y="610.20" width="19.00" height="10.20" rx="3.20" fill="#000" opacity="1" filter="url(#bl2)"/>
<rect x="35.85" y="611.00" width="17.50" height="8.60" rx="3.20" fill="#000" opacity="1" filter="url(#bl1)"/>
<rect x="56.50" y="611.30" width="15.00" height="2.00" rx="1.00" fill="#888" opacity="0.4" filter="url(#bl2)"/>
<rect x="78.00" y="611.00" width="15.00" height="2.00" rx="1.00" fill="#888" opacity="0.35" filter="url(#bl2)"/>
</g>
<rect x="27.30" y="607.30" width="69.00" height="19.40" fill="none" stroke="#1a1a1a" stroke-width="0.75" rx="0.3"/>
<clipPath id="bcm2"><rect x="27.3" y="630.4" width="69.0" height="19.7"/></clipPath>
<g clip-path="url(#bcm2)">
<rect x="27.30" y="630.40" width="69.00" height="19.70" fill="#f0f0f0" stroke="none" stroke-width="1" />
<rect x="27.3" y="630.4" width="69.0" height="19.7" filter="url(#nz)" opacity="0.04"/>
<rect x="27.00" y="636.00" width="70.00" height="7.00" rx="3.20" fill="#999" opacity="0.3" filter="url(#bl3)"/>
<rect x="33.05" y="637.30" width="21.50" height="4.40" rx="2.20" fill="#000" opacity="1" filter="url(#bl2)"/>
<rect x="56.20" y="637.20" width="18.00" height="4.60" rx="2.30" fill="#000" opacity="1" filter="url(#bl2)"/>
<rect x="77.00" y="637.00" width="20.00" height="4.40" rx="2.20" fill="#000" opacity="1" filter="url(#bl2)"/>
<rect x="34.55" y="638.00" width="18.50" height="3.00" rx="1.50" fill="#000" opacity="1" filter="url(#bl1)"/>
<rect x="57.45" y="637.90" width="15.50" height="3.20" rx="1.60" fill="#000" opacity="1" filter="url(#bl1)"/>
<rect x="78.00" y="637.70" width="18.00" height="3.00" rx="1.50" fill="#000" opacity="1" filter="url(#bl1)"/>
</g>
<rect x="27.30" y="630.40" width="69.00" height="19.70" fill="none" stroke="#1a1a1a" stroke-width="0.75" rx="0.3"/>
<text x="99.30" y="618.80" font-size="6.3" text-anchor="start" fill="#231f20" stroke="#231f20" stroke-width="0.1" >AXL</text>
<text x="99.30" y="638.90" font-size="6.3" text-anchor="start" fill="#231f20" stroke="#231f20" stroke-width="0.1" >Actin</text>
</g>
<g id="panelN">
<text transform="translate(127.00 551.70) scale(1.12 1)" font-size="10" font-weight="bold" fill="#000" font-family="DejaVu Sans,Liberation Sans,sans-serif">N</text>
<text x="224.20" y="559.60" font-size="8.3" text-anchor="middle" fill="#231f20" stroke="#231f20" stroke-width="0.1" >THP-1 (72 h)</text>
<rect x="173.05" y="588.80" width="3.90" height="59.70" fill="#c5c4ca" stroke="none" stroke-width="1" />
<line x1="175.00" y1="585.40" x2="175.00" y2="589.30" stroke="#1a1a1a" stroke-width="0.8" stroke-linecap="butt" />
<line x1="173.60" y1="585.40" x2="176.40" y2="585.40" stroke="#1a1a1a" stroke-width="0.8" stroke-linecap="butt" />
<rect x="180.55" y="608.20" width="3.90" height="40.30" fill="#c5c4ca" stroke="none" stroke-width="1" />
<line x1="182.50" y1="602.80" x2="182.50" y2="608.70" stroke="#1a1a1a" stroke-width="0.8" stroke-linecap="butt" />
<line x1="181.10" y1="602.80" x2="183.90" y2="602.80" stroke="#1a1a1a" stroke-width="0.8" stroke-linecap="butt" />
<rect x="188.05" y="601.50" width="3.90" height="47.00" fill="#c5c4ca" stroke="none" stroke-width="1" />
<line x1="190.00" y1="600.50" x2="190.00" y2="602.00" stroke="#1a1a1a" stroke-width="0.8" stroke-linecap="butt" />
<line x1="188.60" y1="600.50" x2="191.40" y2="600.50" stroke="#1a1a1a" stroke-width="0.8" stroke-linecap="butt" />
<rect x="200.65" y="602.80" width="3.90" height="45.70" fill="#1d3f87" stroke="none" stroke-width="1" />
<line x1="202.60" y1="600.20" x2="202.60" y2="603.30" stroke="#1a1a1a" stroke-width="0.8" stroke-linecap="butt" />
<line x1="201.20" y1="600.20" x2="204.00" y2="600.20" stroke="#1a1a1a" stroke-width="0.8" stroke-linecap="butt" />
<rect x="208.05" y="607.40" width="3.90" height="41.10" fill="#1d3f87" stroke="none" stroke-width="1" />
<line x1="210.00" y1="606.80" x2="210.00" y2="607.90" stroke="#1a1a1a" stroke-width="0.8" stroke-linecap="butt" />
<line x1="208.60" y1="606.80" x2="211.40" y2="606.80" stroke="#1a1a1a" stroke-width="0.8" stroke-linecap="butt" />
<rect x="215.45" y="615.80" width="3.90" height="32.70" fill="#1d3f87" stroke="none" stroke-width="1" />
<line x1="217.40" y1="615.20" x2="217.40" y2="616.30" stroke="#1a1a1a" stroke-width="0.8" stroke-linecap="butt" />
<line x1="216.00" y1="615.20" x2="218.80" y2="615.20" stroke="#1a1a1a" stroke-width="0.8" stroke-linecap="butt" />
<rect x="227.75" y="620.30" width="3.90" height="28.20" fill="#5fad3b" stroke="none" stroke-width="1" />
<line x1="229.70" y1="617.40" x2="229.70" y2="620.80" stroke="#1a1a1a" stroke-width="0.8" stroke-linecap="butt" />
<line x1="228.30" y1="617.40" x2="231.10" y2="617.40" stroke="#1a1a1a" stroke-width="0.8" stroke-linecap="butt" />
<rect x="235.45" y="629.50" width="3.90" height="19.00" fill="#5fad3b" stroke="none" stroke-width="1" />
<line x1="237.40" y1="625.40" x2="237.40" y2="630.00" stroke="#1a1a1a" stroke-width="0.8" stroke-linecap="butt" />
<line x1="236.00" y1="625.40" x2="238.80" y2="625.40" stroke="#1a1a1a" stroke-width="0.8" stroke-linecap="butt" />
<rect x="243.05" y="633.80" width="3.90" height="14.70" fill="#5fad3b" stroke="none" stroke-width="1" />
<line x1="245.00" y1="633.20" x2="245.00" y2="634.30" stroke="#1a1a1a" stroke-width="0.8" stroke-linecap="butt" />
<line x1="243.60" y1="633.20" x2="246.40" y2="633.20" stroke="#1a1a1a" stroke-width="0.8" stroke-linecap="butt" />
<rect x="255.45" y="629.50" width="3.90" height="19.00" fill="#b50f2e" stroke="none" stroke-width="1" />
<line x1="257.40" y1="624.30" x2="257.40" y2="630.00" stroke="#1a1a1a" stroke-width="0.8" stroke-linecap="butt" />
<line x1="256.00" y1="624.30" x2="258.80" y2="624.30" stroke="#1a1a1a" stroke-width="0.8" stroke-linecap="butt" />
<rect x="263.05" y="638.00" width="3.90" height="10.50" fill="#b50f2e" stroke="none" stroke-width="1" />
<line x1="265.00" y1="636.50" x2="265.00" y2="638.50" stroke="#1a1a1a" stroke-width="0.8" stroke-linecap="butt" />
<line x1="263.60" y1="636.50" x2="266.40" y2="636.50" stroke="#1a1a1a" stroke-width="0.8" stroke-linecap="butt" />
<rect x="270.45" y="640.00" width="3.90" height="8.50" fill="#b50f2e" stroke="none" stroke-width="1" />
<line x1="272.40" y1="638.40" x2="272.40" y2="640.50" stroke="#1a1a1a" stroke-width="0.8" stroke-linecap="butt" />
<line x1="271.00" y1="638.40" x2="273.80" y2="638.40" stroke="#1a1a1a" stroke-width="0.8" stroke-linecap="butt" />
<line x1="170.40" y1="574.20" x2="170.40" y2="649.20" stroke="#000" stroke-width="1.4" stroke-linecap="butt" />
<line x1="169.70" y1="648.50" x2="277.70" y2="648.50" stroke="#000" stroke-width="1.4" stroke-linecap="butt" />
<line x1="167.10" y1="576.50" x2="170.40" y2="576.50" stroke="#000" stroke-width="1.1" stroke-linecap="butt" />
<text x="164.70" y="579.17" font-size="6.3" text-anchor="end" fill="#231f20" stroke="#231f20" stroke-width="0.1" >120</text>
<line x1="167.10" y1="588.50" x2="170.40" y2="588.50" stroke="#000" stroke-width="1.1" stroke-linecap="butt" />
<text x="164.70" y="591.17" font-size="6.3" text-anchor="end" fill="#231f20" stroke="#231f20" stroke-width="0.1" >100</text>
<line x1="167.10" y1="600.50" x2="170.40" y2="600.50" stroke="#000" stroke-width="1.1" stroke-linecap="butt" />
<text x="164.70" y="603.17" font-size="6.3" text-anchor="end" fill="#231f20" stroke="#231f20" stroke-width="0.1" >80</text>
<line x1="167.10" y1="612.50" x2="170.40" y2="612.50" stroke="#000" stroke-width="1.1" stroke-linecap="butt" />
<text x="164.70" y="615.17" font-size="6.3" text-anchor="end" fill="#231f20" stroke="#231f20" stroke-width="0.1" >60</text>
<line x1="167.10" y1="624.50" x2="170.40" y2="624.50" stroke="#000" stroke-width="1.1" stroke-linecap="butt" />
<text x="164.70" y="627.17" font-size="6.3" text-anchor="end" fill="#231f20" stroke="#231f20" stroke-width="0.1" >40</text>
<line x1="167.10" y1="636.50" x2="170.40" y2="636.50" stroke="#000" stroke-width="1.1" stroke-linecap="butt" />
<text x="164.70" y="639.17" font-size="6.3" text-anchor="end" fill="#231f20" stroke="#231f20" stroke-width="0.1" >20</text>
<line x1="167.10" y1="648.50" x2="170.40" y2="648.50" stroke="#000" stroke-width="1.1" stroke-linecap="butt" />
<text x="164.70" y="651.17" font-size="6.3" text-anchor="end" fill="#231f20" stroke="#231f20" stroke-width="0.1" >0</text>
<line x1="175.00" y1="648.50" x2="175.00" y2="651.80" stroke="#000" stroke-width="1.1" stroke-linecap="butt" />
<line x1="182.50" y1="648.50" x2="182.50" y2="651.80" stroke="#000" stroke-width="1.1" stroke-linecap="butt" />
<line x1="190.00" y1="648.50" x2="190.00" y2="651.80" stroke="#000" stroke-width="1.1" stroke-linecap="butt" />
<line x1="202.60" y1="648.50" x2="202.60" y2="651.80" stroke="#000" stroke-width="1.1" stroke-linecap="butt" />
<line x1="210.00" y1="648.50" x2="210.00" y2="651.80" stroke="#000" stroke-width="1.1" stroke-linecap="butt" />
<line x1="217.40" y1="648.50" x2="217.40" y2="651.80" stroke="#000" stroke-width="1.1" stroke-linecap="butt" />
<line x1="229.70" y1="648.50" x2="229.70" y2="651.80" stroke="#000" stroke-width="1.1" stroke-linecap="butt" />
<line x1="237.40" y1="648.50" x2="237.40" y2="651.80" stroke="#000" stroke-width="1.1" stroke-linecap="butt" />
<line x1="245.00" y1="648.50" x2="245.00" y2="651.80" stroke="#000" stroke-width="1.1" stroke-linecap="butt" />
<line x1="257.40" y1="648.50" x2="257.40" y2="651.80" stroke="#000" stroke-width="1.1" stroke-linecap="butt" />
<line x1="265.00" y1="648.50" x2="265.00" y2="651.80" stroke="#000" stroke-width="1.1" stroke-linecap="butt" />
<line x1="272.40" y1="648.50" x2="272.40" y2="651.80" stroke="#000" stroke-width="1.1" stroke-linecap="butt" />
<text x="177.40" y="657.60" font-size="6.7" text-anchor="end" fill="#231f20" stroke="#231f20" stroke-width="0.1" transform="rotate(-45 177.40 657.60)" >Control</text>
<text x="187.40" y="657.80" font-size="6.35" text-anchor="end" fill="#231f20" stroke="#231f20" stroke-width="0.1" transform="rotate(-45 187.40 657.80)" >AXL-KD1</text>
<text x="194.90" y="657.80" font-size="6.35" text-anchor="end" fill="#231f20" stroke="#231f20" stroke-width="0.1" transform="rotate(-45 194.90 657.80)" >AXL-KD2</text>
<text x="205.00" y="657.60" font-size="6.7" text-anchor="end" fill="#231f20" stroke="#231f20" stroke-width="0.1" transform="rotate(-45 205.00 657.60)" >Control</text>
<text x="214.90" y="657.80" font-size="6.35" text-anchor="end" fill="#231f20" stroke="#231f20" stroke-width="0.1" transform="rotate(-45 214.90 657.80)" >AXL-KD1</text>
<text x="222.30" y="657.80" font-size="6.35" text-anchor="end" fill="#231f20" stroke="#231f20" stroke-width="0.1" transform="rotate(-45 222.30 657.80)" >AXL-KD2</text>
<text x="232.10" y="657.60" font-size="6.7" text-anchor="end" fill="#231f20" stroke="#231f20" stroke-width="0.1" transform="rotate(-45 232.10 657.60)" >Control</text>
<text x="242.30" y="657.80" font-size="6.35" text-anchor="end" fill="#231f20" stroke="#231f20" stroke-width="0.1" transform="rotate(-45 242.30 657.80)" >AXL-KD1</text>
<text x="249.90" y="657.80" font-size="6.35" text-anchor="end" fill="#231f20" stroke="#231f20" stroke-width="0.1" transform="rotate(-45 249.90 657.80)" >AXL-KD2</text>
<text x="259.80" y="657.60" font-size="6.7" text-anchor="end" fill="#231f20" stroke="#231f20" stroke-width="0.1" transform="rotate(-45 259.80 657.60)" >Control</text>
<text x="269.90" y="657.80" font-size="6.35" text-anchor="end" fill="#231f20" stroke="#231f20" stroke-width="0.1" transform="rotate(-45 269.90 657.80)" >AXL-KD1</text>
<text x="277.30" y="657.80" font-size="6.35" text-anchor="end" fill="#231f20" stroke="#231f20" stroke-width="0.1" transform="rotate(-45 277.30 657.80)" >AXL-KD2</text>
<path d="M175.00,574.10 L175.00,571.50 Q175.00,570.80 175.70,570.80 L189.70,570.80 Q190.40,570.80 190.40,571.50 L190.40,574.10" fill="none" stroke="#111" stroke-width="1.15" />
<text x="182.80" y="569.20" font-size="5.3" text-anchor="middle" fill="#4a4a4a" >P=0.03</text>
<path d="M175.00,584.70 L175.00,582.10 Q175.00,581.40 175.70,581.40 L182.50,581.40 Q183.20,581.40 183.20,582.10 L183.20,584.70" fill="none" stroke="#111" stroke-width="1.15" />
<text x="173.40" y="579.20" font-size="5.3" text-anchor="start" fill="#4a4a4a" >P=0.04</text>
<path d="M202.60,588.10 L202.60,585.50 Q202.60,584.80 203.30,584.80 L217.30,584.80 Q218.00,584.80 218.00,585.50 L218.00,588.10" fill="none" stroke="#111" stroke-width="1.15" />
<text x="211.20" y="583.00" font-size="5.3" text-anchor="middle" fill="#4a4a4a" >P=0.02</text>
<path d="M202.60,598.30 L202.60,595.70 Q202.60,595.00 203.30,595.00 L210.30,595.00 Q211.00,595.00 211.00,595.70 L211.00,598.30" fill="none" stroke="#111" stroke-width="1.15" />
<text x="199.20" y="593.20" font-size="5.3" text-anchor="start" fill="#4a4a4a" >P=0.09</text>
<path d="M229.70,605.60 L229.70,603.00 Q229.70,602.30 230.40,602.30 L245.30,602.30 Q246.00,602.30 246.00,603.00 L246.00,605.60" fill="none" stroke="#111" stroke-width="1.15" />
<text x="238.70" y="601.10" font-size="5.3" text-anchor="middle" fill="#4a4a4a" >P=0.02</text>
<path d="M229.70,616.10 L229.70,613.50 Q229.70,612.80 230.40,612.80 L237.50,612.80 Q238.20,612.80 238.20,613.50 L238.20,616.10" fill="none" stroke="#111" stroke-width="1.15" />
<text x="228.20" y="611.30" font-size="5.3" text-anchor="start" fill="#4a4a4a" >P=0.1</text>
<path d="M257.40,612.10 L257.40,609.50 Q257.40,608.80 258.10,608.80 L272.30,608.80 Q273.00,608.80 273.00,609.50 L273.00,612.10" fill="none" stroke="#111" stroke-width="1.15" />
<text x="264.60" y="607.10" font-size="5.3" text-anchor="middle" fill="#4a4a4a" >P=0.11</text>
<path d="M257.40,622.10 L257.40,619.50 Q257.40,618.80 258.10,618.80 L264.90,618.80 Q265.60,618.80 265.60,619.50 L265.60,622.10" fill="none" stroke="#111" stroke-width="1.15" />
<text x="253.00" y="617.00" font-size="5.3" text-anchor="start" fill="#4a4a4a" >P=0.15</text>
</g>
<g id="panelO">
<text transform="translate(299.10 551.70) scale(1.2 1)" font-size="10" font-weight="bold" fill="#000" font-family="DejaVu Sans,Liberation Sans,sans-serif">O</text>
<text x="395.00" y="559.60" font-size="8.3" text-anchor="middle" fill="#231f20" stroke="#231f20" stroke-width="0.1" >THP-1 (72 h)</text>
<rect x="342.65" y="646.20" width="3.90" height="2.30" fill="#c5c4ca" stroke="none" stroke-width="1" />
<line x1="344.60" y1="646.00" x2="344.60" y2="646.70" stroke="#1a1a1a" stroke-width="0.8" stroke-linecap="butt" />
<line x1="343.20" y1="646.00" x2="346.00" y2="646.00" stroke="#1a1a1a" stroke-width="0.8" stroke-linecap="butt" />
<rect x="350.35" y="638.60" width="3.90" height="9.90" fill="#c5c4ca" stroke="none" stroke-width="1" />
<line x1="352.30" y1="637.40" x2="352.30" y2="639.10" stroke="#1a1a1a" stroke-width="0.8" stroke-linecap="butt" />
<line x1="350.90" y1="637.40" x2="353.70" y2="637.40" stroke="#1a1a1a" stroke-width="0.8" stroke-linecap="butt" />
<rect x="358.05" y="638.60" width="3.90" height="9.90" fill="#c5c4ca" stroke="none" stroke-width="1" />
<line x1="360.00" y1="637.40" x2="360.00" y2="639.10" stroke="#1a1a1a" stroke-width="0.8" stroke-linecap="butt" />
<line x1="358.60" y1="637.40" x2="361.40" y2="637.40" stroke="#1a1a1a" stroke-width="0.8" stroke-linecap="butt" />
<rect x="371.05" y="644.30" width="3.90" height="4.20" fill="#1d3f87" stroke="none" stroke-width="1" />
<line x1="373.00" y1="644.00" x2="373.00" y2="644.80" stroke="#1a1a1a" stroke-width="0.8" stroke-linecap="butt" />
<line x1="371.60" y1="644.00" x2="374.40" y2="644.00" stroke="#1a1a1a" stroke-width="0.8" stroke-linecap="butt" />
<rect x="378.85" y="639.00" width="3.90" height="9.50" fill="#1d3f87" stroke="none" stroke-width="1" />
<line x1="380.80" y1="638.20" x2="380.80" y2="639.50" stroke="#1a1a1a" stroke-width="0.8" stroke-linecap="butt" />
<line x1="379.40" y1="638.20" x2="382.20" y2="638.20" stroke="#1a1a1a" stroke-width="0.8" stroke-linecap="butt" />
<rect x="386.55" y="634.20" width="3.90" height="14.30" fill="#1d3f87" stroke="none" stroke-width="1" />
<line x1="388.50" y1="632.40" x2="388.50" y2="634.70" stroke="#1a1a1a" stroke-width="0.8" stroke-linecap="butt" />
<line x1="387.10" y1="632.40" x2="389.90" y2="632.40" stroke="#1a1a1a" stroke-width="0.8" stroke-linecap="butt" />
<rect x="399.25" y="615.00" width="3.90" height="33.50" fill="#5fad3b" stroke="none" stroke-width="1" />
<line x1="401.20" y1="614.30" x2="401.20" y2="615.50" stroke="#1a1a1a" stroke-width="0.8" stroke-linecap="butt" />
<line x1="399.80" y1="614.30" x2="402.60" y2="614.30" stroke="#1a1a1a" stroke-width="0.8" stroke-linecap="butt" />
<rect x="407.05" y="599.80" width="3.90" height="48.70" fill="#5fad3b" stroke="none" stroke-width="1" />
<line x1="409.00" y1="597.60" x2="409.00" y2="600.30" stroke="#1a1a1a" stroke-width="0.8" stroke-linecap="butt" />
<line x1="407.60" y1="597.60" x2="410.40" y2="597.60" stroke="#1a1a1a" stroke-width="0.8" stroke-linecap="butt" />
<rect x="414.65" y="592.00" width="3.90" height="56.50" fill="#5fad3b" stroke="none" stroke-width="1" />
<line x1="416.60" y1="590.00" x2="416.60" y2="592.50" stroke="#1a1a1a" stroke-width="0.8" stroke-linecap="butt" />
<line x1="415.20" y1="590.00" x2="418.00" y2="590.00" stroke="#1a1a1a" stroke-width="0.8" stroke-linecap="butt" />
<rect x="427.55" y="603.00" width="3.90" height="45.50" fill="#b50f2e" stroke="none" stroke-width="1" />
<line x1="429.50" y1="601.00" x2="429.50" y2="603.50" stroke="#1a1a1a" stroke-width="0.8" stroke-linecap="butt" />
<line x1="428.10" y1="601.00" x2="430.90" y2="601.00" stroke="#1a1a1a" stroke-width="0.8" stroke-linecap="butt" />
<rect x="435.25" y="588.00" width="3.90" height="60.50" fill="#b50f2e" stroke="none" stroke-width="1" />
<line x1="437.20" y1="586.40" x2="437.20" y2="588.50" stroke="#1a1a1a" stroke-width="0.8" stroke-linecap="butt" />
<line x1="435.80" y1="586.40" x2="438.60" y2="586.40" stroke="#1a1a1a" stroke-width="0.8" stroke-linecap="butt" />
<rect x="443.05" y="588.00" width="3.90" height="60.50" fill="#b50f2e" stroke="none" stroke-width="1" />
<line x1="445.00" y1="586.40" x2="445.00" y2="588.50" stroke="#1a1a1a" stroke-width="0.8" stroke-linecap="butt" />
<line x1="443.60" y1="586.40" x2="446.40" y2="586.40" stroke="#1a1a1a" stroke-width="0.8" stroke-linecap="butt" />
<line x1="339.80" y1="572.90" x2="339.80" y2="649.20" stroke="#000" stroke-width="1.4" stroke-linecap="butt" />
<line x1="339.10" y1="648.50" x2="450.80" y2="648.50" stroke="#000" stroke-width="1.4" stroke-linecap="butt" />
<line x1="336.50" y1="575.20" x2="339.80" y2="575.20" stroke="#000" stroke-width="1.1" stroke-linecap="butt" />
<text x="334.10" y="577.87" font-size="6.3" text-anchor="end" fill="#231f20" stroke="#231f20" stroke-width="0.1" >100</text>
<line x1="336.50" y1="589.90" x2="339.80" y2="589.90" stroke="#000" stroke-width="1.1" stroke-linecap="butt" />
<text x="334.10" y="592.57" font-size="6.3" text-anchor="end" fill="#231f20" stroke="#231f20" stroke-width="0.1" >80</text>
<line x1="336.50" y1="604.50" x2="339.80" y2="604.50" stroke="#000" stroke-width="1.1" stroke-linecap="butt" />
<text x="334.10" y="607.17" font-size="6.3" text-anchor="end" fill="#231f20" stroke="#231f20" stroke-width="0.1" >60</text>
<line x1="336.50" y1="619.20" x2="339.80" y2="619.20" stroke="#000" stroke-width="1.1" stroke-linecap="butt" />
<text x="334.10" y="621.87" font-size="6.3" text-anchor="end" fill="#231f20" stroke="#231f20" stroke-width="0.1" >40</text>
<line x1="336.50" y1="633.80" x2="339.80" y2="633.80" stroke="#000" stroke-width="1.1" stroke-linecap="butt" />
<text x="334.10" y="636.47" font-size="6.3" text-anchor="end" fill="#231f20" stroke="#231f20" stroke-width="0.1" >20</text>
<line x1="336.50" y1="648.50" x2="339.80" y2="648.50" stroke="#000" stroke-width="1.1" stroke-linecap="butt" />
<text x="334.10" y="651.17" font-size="6.3" text-anchor="end" fill="#231f20" stroke="#231f20" stroke-width="0.1" >0</text>
<line x1="344.60" y1="648.50" x2="344.60" y2="651.80" stroke="#000" stroke-width="1.1" stroke-linecap="butt" />
<line x1="352.30" y1="648.50" x2="352.30" y2="651.80" stroke="#000" stroke-width="1.1" stroke-linecap="butt" />
<line x1="360.00" y1="648.50" x2="360.00" y2="651.80" stroke="#000" stroke-width="1.1" stroke-linecap="butt" />
<line x1="373.00" y1="648.50" x2="373.00" y2="651.80" stroke="#000" stroke-width="1.1" stroke-linecap="butt" />
<line x1="380.80" y1="648.50" x2="380.80" y2="651.80" stroke="#000" stroke-width="1.1" stroke-linecap="butt" />
<line x1="388.50" y1="648.50" x2="388.50" y2="651.80" stroke="#000" stroke-width="1.1" stroke-linecap="butt" />
<line x1="401.20" y1="648.50" x2="401.20" y2="651.80" stroke="#000" stroke-width="1.1" stroke-linecap="butt" />
<line x1="409.00" y1="648.50" x2="409.00" y2="651.80" stroke="#000" stroke-width="1.1" stroke-linecap="butt" />
<line x1="416.60" y1="648.50" x2="416.60" y2="651.80" stroke="#000" stroke-width="1.1" stroke-linecap="butt" />
<line x1="429.50" y1="648.50" x2="429.50" y2="651.80" stroke="#000" stroke-width="1.1" stroke-linecap="butt" />
<line x1="437.20" y1="648.50" x2="437.20" y2="651.80" stroke="#000" stroke-width="1.1" stroke-linecap="butt" />
<line x1="445.00" y1="648.50" x2="445.00" y2="651.80" stroke="#000" stroke-width="1.1" stroke-linecap="butt" />
<text x="347.00" y="657.60" font-size="6.7" text-anchor="end" fill="#231f20" stroke="#231f20" stroke-width="0.1" transform="rotate(-45 347.00 657.60)" >Control</text>
<text x="357.20" y="657.80" font-size="6.35" text-anchor="end" fill="#231f20" stroke="#231f20" stroke-width="0.1" transform="rotate(-45 357.20 657.80)" >AXL-KD1</text>
<text x="364.90" y="657.80" font-size="6.35" text-anchor="end" fill="#231f20" stroke="#231f20" stroke-width="0.1" transform="rotate(-45 364.90 657.80)" >AXL-KD2</text>
<text x="375.40" y="657.60" font-size="6.7" text-anchor="end" fill="#231f20" stroke="#231f20" stroke-width="0.1" transform="rotate(-45 375.40 657.60)" >Control</text>
<text x="385.70" y="657.80" font-size="6.35" text-anchor="end" fill="#231f20" stroke="#231f20" stroke-width="0.1" transform="rotate(-45 385.70 657.80)" >AXL-KD1</text>
<text x="393.40" y="657.80" font-size="6.35" text-anchor="end" fill="#231f20" stroke="#231f20" stroke-width="0.1" transform="rotate(-45 393.40 657.80)" >AXL-KD2</text>
<text x="403.60" y="657.60" font-size="6.7" text-anchor="end" fill="#231f20" stroke="#231f20" stroke-width="0.1" transform="rotate(-45 403.60 657.60)" >Control</text>
<text x="413.90" y="657.80" font-size="6.35" text-anchor="end" fill="#231f20" stroke="#231f20" stroke-width="0.1" transform="rotate(-45 413.90 657.80)" >AXL-KD1</text>
<text x="421.50" y="657.80" font-size="6.35" text-anchor="end" fill="#231f20" stroke="#231f20" stroke-width="0.1" transform="rotate(-45 421.50 657.80)" >AXL-KD2</text>
<text x="431.90" y="657.60" font-size="6.7" text-anchor="end" fill="#231f20" stroke="#231f20" stroke-width="0.1" transform="rotate(-45 431.90 657.60)" >Control</text>
<text x="442.10" y="657.80" font-size="6.35" text-anchor="end" fill="#231f20" stroke="#231f20" stroke-width="0.1" transform="rotate(-45 442.10 657.80)" >AXL-KD1</text>
<text x="449.90" y="657.80" font-size="6.35" text-anchor="end" fill="#231f20" stroke="#231f20" stroke-width="0.1" transform="rotate(-45 449.90 657.80)" >AXL-KD2</text>
<path d="M344.60,621.20 L344.60,618.60 Q344.60,617.90 345.30,617.90 L359.50,617.90 Q360.20,617.90 360.20,618.60 L360.20,621.20" fill="none" stroke="#111" stroke-width="1.15" />
<text x="352.00" y="616.40" font-size="5.3" text-anchor="middle" fill="#4a4a4a" >P=0.01</text>
<path d="M344.60,631.20 L344.60,628.60 Q344.60,627.90 345.30,627.90 L352.10,627.90 Q352.80,627.90 352.80,628.60 L352.80,631.20" fill="none" stroke="#111" stroke-width="1.15" />
<text x="340.80" y="626.10" font-size="5.3" text-anchor="start" fill="#4a4a4a" >P=0.004</text>
<path d="M373.00,621.20 L373.00,618.60 Q373.00,617.90 373.70,617.90 L388.00,617.90 Q388.70,617.90 388.70,618.60 L388.70,621.20" fill="none" stroke="#111" stroke-width="1.15" />
<text x="380.20" y="616.40" font-size="5.3" text-anchor="middle" fill="#4a4a4a" >P=0.01</text>
<path d="M373.00,631.20 L373.00,628.60 Q373.00,627.90 373.70,627.90 L380.50,627.90 Q381.20,627.90 381.20,628.60 L381.20,631.20" fill="none" stroke="#111" stroke-width="1.15" />
<text x="367.00" y="626.10" font-size="5.3" text-anchor="start" fill="#4a4a4a" >P=0.007</text>
<path d="M401.20,586.70 L401.20,584.10 Q401.20,583.40 401.90,583.40 L416.30,583.40 Q417.00,583.40 417.00,584.10 L417.00,586.70" fill="none" stroke="#111" stroke-width="1.15" />
<text x="408.40" y="581.50" font-size="5.3" text-anchor="middle" fill="#4a4a4a" >P=0.007</text>
<path d="M401.20,596.90 L401.20,594.30 Q401.20,593.60 401.90,593.60 L408.70,593.60 Q409.40,593.60 409.40,594.30 L409.40,596.90" fill="none" stroke="#111" stroke-width="1.15" />
<text x="396.20" y="592.10" font-size="5.3" text-anchor="start" fill="#4a4a4a" >P=0.01</text>
<path d="M429.50,574.10 L429.50,571.50 Q429.50,570.80 430.20,570.80 L444.50,570.80 Q445.20,570.80 445.20,571.50 L445.20,574.10" fill="none" stroke="#111" stroke-width="1.15" />
<text x="437.00" y="569.40" font-size="5.3" text-anchor="middle" fill="#4a4a4a" >P=0.02</text>
<path d="M429.50,583.50 L429.50,580.90 Q429.50,580.20 430.20,580.20 L436.90,580.20 Q437.60,580.20 437.60,580.90 L437.60,583.50" fill="none" stroke="#111" stroke-width="1.15" />
<text x="425.20" y="579.20" font-size="5.3" text-anchor="start" fill="#4a4a4a" >P=0.01</text>
<rect x="454.00" y="573.20" width="6.80" height="2.80" fill="#c5c4ca" stroke="none" stroke-width="1" />
<text x="464.00" y="576.60" font-size="5.5" text-anchor="start" fill="#333" stroke="#333" stroke-width="0.1" >Control</text>
<rect x="454.00" y="582.60" width="6.80" height="2.80" fill="#1d3f87" stroke="none" stroke-width="1" />
<text x="464.00" y="586.00" font-size="5.5" text-anchor="start" fill="#333" stroke="#333" stroke-width="0.1" >SLC</text>
<rect x="454.00" y="591.60" width="6.80" height="2.80" fill="#5fad3b" stroke="none" stroke-width="1" />
<text x="464.00" y="595.00" font-size="5.5" text-anchor="start" fill="#333" stroke="#333" stroke-width="0.1" >VEN</text>
<rect x="454.00" y="600.20" width="6.80" height="2.80" fill="#b50f2e" stroke="none" stroke-width="1" />
<text x="464.00" y="603.60" font-size="5.5" text-anchor="start" fill="#333" stroke="#333" stroke-width="0.1" >SLC+VEN</text>
</g>
<rect x="0.5" y="0.5" width="519" height="683" fill="none" stroke="#000" stroke-width="1"/>
</svg>
</body></html>
